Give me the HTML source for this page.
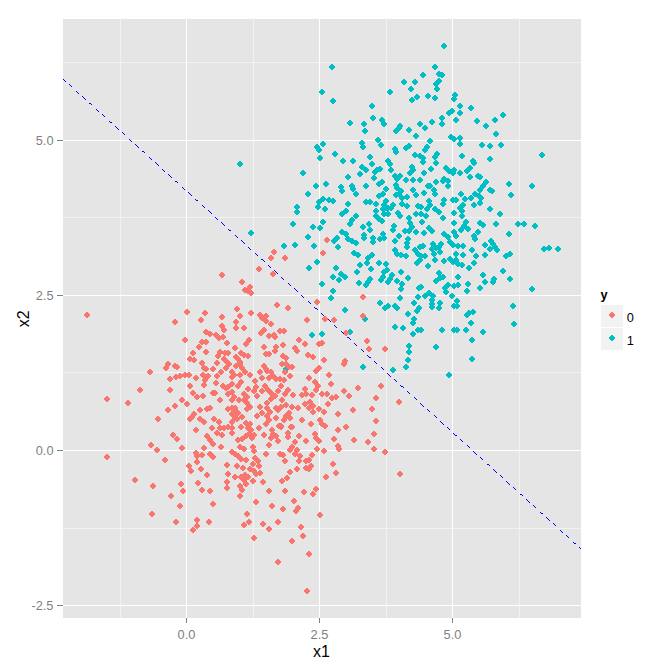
<!DOCTYPE html>
<html><head><meta charset="utf-8"><title>plot</title>
<style>
html,body{margin:0;padding:0;background:#fff;}
body{width:672px;height:671px;overflow:hidden;font-family:"Liberation Sans",sans-serif;}
svg{display:block;position:absolute;left:0;top:0}
text{font-family:"Liberation Sans",sans-serif;}
.at{font-size:12.8px;fill:#7f7f7f}
.lt{font-size:12.8px;fill:#000}
.ti{font-size:16px;fill:#000}
</style></head><body>
<svg width="672" height="671" viewBox="0 0 672 671">
<rect x="0" y="0" width="672" height="671" fill="#fff"/>
<rect x="63" y="19" width="518" height="599" fill="#e5e5e5"/>
<g fill="#f2f2f2" shape-rendering="crispEdges"><rect x="120" y="19" width="1" height="599"/><rect x="253" y="19" width="1" height="599"/><rect x="386" y="19" width="1" height="599"/><rect x="519" y="19" width="1" height="599"/><rect x="63" y="62" width="518" height="1"/><rect x="63" y="217" width="518" height="1"/><rect x="63" y="372" width="518" height="1"/><rect x="63" y="528" width="518" height="1"/></g>
<g fill="#fff" shape-rendering="crispEdges"><rect x="186" y="19" width="1" height="599"/><rect x="319" y="19" width="1" height="599"/><rect x="452" y="19" width="1" height="599"/><rect x="63" y="140" width="518" height="1"/><rect x="63" y="295" width="518" height="1"/><rect x="63" y="450" width="518" height="1"/><rect x="63" y="605" width="518" height="1"/></g>
<g fill="#7f7f7f" shape-rendering="crispEdges"><rect x="186" y="618" width="1" height="5"/><rect x="319" y="618" width="1" height="5"/><rect x="452" y="618" width="1" height="5"/><rect x="57" y="140" width="6" height="1"/><rect x="57" y="295" width="6" height="1"/><rect x="57" y="450" width="6" height="1"/><rect x="57" y="605" width="6" height="1"/></g>
<text class="at" text-anchor="middle" x="186.5" y="639">0.0</text><text class="at" text-anchor="middle" x="319.5" y="639">2.5</text><text class="at" text-anchor="middle" x="452.5" y="639">5.0</text><text class="at" text-anchor="end" x="53.5" y="610.4">-2.5</text><text class="at" text-anchor="end" x="53.5" y="455.4">0.0</text><text class="at" text-anchor="end" x="53.5" y="300.4">2.5</text><text class="at" text-anchor="end" x="53.5" y="145.4">5.0</text><text class="ti" text-anchor="middle" x="321.5" y="657">x1</text>
<text class="ti" text-anchor="middle" transform="translate(28.5,318.8) rotate(-90)">x2</text>
<path fill="#00bfc4" shape-rendering="crispEdges" d="M331 64h2v1h1v1h1v2h-1v1h-1v1h-2v-1h-1v-1h-1v-2h1v-1h1zM321 89h2v1h1v1h1v2h-1v1h-1v1h-2v-1h-1v-1h-1v-2h1v-1h1zM389 89h2v1h1v1h1v2h-1v1h-1v1h-2v-1h-1v-1h-1v-2h1v-1h1zM332 98h2v1h1v1h1v2h-1v1h-1v1h-2v-1h-1v-1h-1v-2h1v-1h1zM371 103h2v1h1v1h1v2h-1v1h-1v1h-2v-1h-1v-1h-1v-2h1v-1h1zM372 115h2v1h1v1h1v2h-1v1h-1v1h-2v-1h-1v-1h-1v-2h1v-1h1zM381 117h2v1h1v1h1v2h-1v1h-1v1h-2v-1h-1v-1h-1v-2h1v-1h1zM383 121h2v1h1v1h1v2h-1v1h-1v1h-2v-1h-1v-1h-1v-2h1v-1h1zM349 120h2v1h1v1h1v2h-1v1h-1v1h-2v-1h-1v-1h-1v-2h1v-1h1zM363 121h2v1h1v1h1v2h-1v1h-1v1h-2v-1h-1v-1h-1v-2h1v-1h1zM364 128h2v1h1v1h1v2h-1v1h-1v1h-2v-1h-1v-1h-1v-2h1v-1h1zM395 128h2v1h1v1h1v2h-1v1h-1v1h-2v-1h-1v-1h-1v-2h1v-1h1zM377 137h2v1h1v1h1v2h-1v1h-1v1h-2v-1h-1v-1h-1v-2h1v-1h1zM361 140h2v1h1v1h1v2h-1v1h-1v1h-2v-1h-1v-1h-1v-2h1v-1h1zM380 142h2v1h1v1h1v2h-1v1h-1v1h-2v-1h-1v-1h-1v-2h1v-1h1zM362 144h2v1h1v1h1v2h-1v1h-1v1h-2v-1h-1v-1h-1v-2h1v-1h1zM322 141h2v1h1v1h1v2h-1v1h-1v1h-2v-1h-1v-1h-1v-2h1v-1h1zM316 144h2v1h1v1h1v2h-1v1h-1v1h-2v-1h-1v-1h-1v-2h1v-1h1zM318 147h2v1h1v1h1v2h-1v1h-1v1h-2v-1h-1v-1h-1v-2h1v-1h1zM394 146h2v1h1v1h1v2h-1v1h-1v1h-2v-1h-1v-1h-1v-2h1v-1h1zM395 149h2v1h1v1h1v2h-1v1h-1v1h-2v-1h-1v-1h-1v-2h1v-1h1zM334 151h2v1h1v1h1v2h-1v1h-1v1h-2v-1h-1v-1h-1v-2h1v-1h1zM319 155h2v1h1v1h1v2h-1v1h-1v1h-2v-1h-1v-1h-1v-2h1v-1h1zM369 154h2v1h1v1h1v2h-1v1h-1v1h-2v-1h-1v-1h-1v-2h1v-1h1zM342 158h2v1h1v1h1v2h-1v1h-1v1h-2v-1h-1v-1h-1v-2h1v-1h1zM352 158h2v1h1v1h1v2h-1v1h-1v1h-2v-1h-1v-1h-1v-2h1v-1h1zM387 158h2v1h1v1h1v2h-1v1h-1v1h-2v-1h-1v-1h-1v-2h1v-1h1zM389 161h2v1h1v1h1v2h-1v1h-1v1h-2v-1h-1v-1h-1v-2h1v-1h1zM371 161h2v1h1v1h1v2h-1v1h-1v1h-2v-1h-1v-1h-1v-2h1v-1h1zM239 161h2v1h1v1h1v2h-1v1h-1v1h-2v-1h-1v-1h-1v-2h1v-1h1zM361 164h2v1h1v1h1v2h-1v1h-1v1h-2v-1h-1v-1h-1v-2h1v-1h1zM365 167h2v1h1v1h1v2h-1v1h-1v1h-2v-1h-1v-1h-1v-2h1v-1h1zM376 167h2v1h1v1h1v2h-1v1h-1v1h-2v-1h-1v-1h-1v-2h1v-1h1zM379 166h2v1h1v1h1v2h-1v1h-1v1h-2v-1h-1v-1h-1v-2h1v-1h1zM374 169h2v1h1v1h1v2h-1v1h-1v1h-2v-1h-1v-1h-1v-2h1v-1h1zM390 167h2v1h1v1h1v2h-1v1h-1v1h-2v-1h-1v-1h-1v-2h1v-1h1zM302 170h2v1h1v1h1v2h-1v1h-1v1h-2v-1h-1v-1h-1v-2h1v-1h1zM359 171h2v1h1v1h1v2h-1v1h-1v1h-2v-1h-1v-1h-1v-2h1v-1h1zM347 174h2v1h1v1h1v2h-1v1h-1v1h-2v-1h-1v-1h-1v-2h1v-1h1zM373 175h2v1h1v1h1v2h-1v1h-1v1h-2v-1h-1v-1h-1v-2h1v-1h1zM394 173h2v1h1v1h1v2h-1v1h-1v1h-2v-1h-1v-1h-1v-2h1v-1h1zM396 175h2v1h1v1h1v2h-1v1h-1v1h-2v-1h-1v-1h-1v-2h1v-1h1zM381 179h2v1h1v1h1v2h-1v1h-1v1h-2v-1h-1v-1h-1v-2h1v-1h1zM378 181h2v1h1v1h1v2h-1v1h-1v1h-2v-1h-1v-1h-1v-2h1v-1h1zM325 181h2v1h1v1h1v2h-1v1h-1v1h-2v-1h-1v-1h-1v-2h1v-1h1zM315 183h2v1h1v1h1v2h-1v1h-1v1h-2v-1h-1v-1h-1v-2h1v-1h1zM340 184h2v1h1v1h1v2h-1v1h-1v1h-2v-1h-1v-1h-1v-2h1v-1h1zM351 183h2v1h1v1h1v2h-1v1h-1v1h-2v-1h-1v-1h-1v-2h1v-1h1zM365 183h2v1h1v1h1v2h-1v1h-1v1h-2v-1h-1v-1h-1v-2h1v-1h1zM395 182h2v1h1v1h1v2h-1v1h-1v1h-2v-1h-1v-1h-1v-2h1v-1h1zM443 43h2v1h1v1h1v2h-1v1h-1v1h-2v-1h-1v-1h-1v-2h1v-1h1zM434 64h2v1h1v1h1v2h-1v1h-1v1h-2v-1h-1v-1h-1v-2h1v-1h1zM422 72h2v1h1v1h1v2h-1v1h-1v1h-2v-1h-1v-1h-1v-2h1v-1h1zM438 71h2v1h1v1h1v2h-1v1h-1v1h-2v-1h-1v-1h-1v-2h1v-1h1zM441 72h2v1h1v1h1v2h-1v1h-1v1h-2v-1h-1v-1h-1v-2h1v-1h1zM403 79h2v1h1v1h1v2h-1v1h-1v1h-2v-1h-1v-1h-1v-2h1v-1h1zM414 79h2v1h1v1h1v2h-1v1h-1v1h-2v-1h-1v-1h-1v-2h1v-1h1zM438 78h2v1h1v1h1v2h-1v1h-1v1h-2v-1h-1v-1h-1v-2h1v-1h1zM435 81h2v1h1v1h1v2h-1v1h-1v1h-2v-1h-1v-1h-1v-2h1v-1h1zM410 86h2v1h1v1h1v2h-1v1h-1v1h-2v-1h-1v-1h-1v-2h1v-1h1zM436 86h2v1h1v1h1v2h-1v1h-1v1h-2v-1h-1v-1h-1v-2h1v-1h1zM427 93h2v1h1v1h1v2h-1v1h-1v1h-2v-1h-1v-1h-1v-2h1v-1h1zM416 94h2v1h1v1h1v2h-1v1h-1v1h-2v-1h-1v-1h-1v-2h1v-1h1zM411 97h2v1h1v1h1v2h-1v1h-1v1h-2v-1h-1v-1h-1v-2h1v-1h1zM434 95h2v1h1v1h1v2h-1v1h-1v1h-2v-1h-1v-1h-1v-2h1v-1h1zM454 92h2v1h1v1h1v2h-1v1h-1v1h-2v-1h-1v-1h-1v-2h1v-1h1zM453 96h2v1h1v1h1v2h-1v1h-1v1h-2v-1h-1v-1h-1v-2h1v-1h1zM459 103h2v1h1v1h1v2h-1v1h-1v1h-2v-1h-1v-1h-1v-2h1v-1h1zM470 105h2v1h1v1h1v2h-1v1h-1v1h-2v-1h-1v-1h-1v-2h1v-1h1zM451 108h2v1h1v1h1v2h-1v1h-1v1h-2v-1h-1v-1h-1v-2h1v-1h1zM448 110h2v1h1v1h1v2h-1v1h-1v1h-2v-1h-1v-1h-1v-2h1v-1h1zM459 110h2v1h1v1h1v2h-1v1h-1v1h-2v-1h-1v-1h-1v-2h1v-1h1zM441 115h2v1h1v1h1v2h-1v1h-1v1h-2v-1h-1v-1h-1v-2h1v-1h1zM455 117h2v1h1v1h1v2h-1v1h-1v1h-2v-1h-1v-1h-1v-2h1v-1h1zM431 119h2v1h1v1h1v2h-1v1h-1v1h-2v-1h-1v-1h-1v-2h1v-1h1zM419 121h2v1h1v1h1v2h-1v1h-1v1h-2v-1h-1v-1h-1v-2h1v-1h1zM441 121h2v1h1v1h1v2h-1v1h-1v1h-2v-1h-1v-1h-1v-2h1v-1h1zM502 112h2v1h1v1h1v2h-1v1h-1v1h-2v-1h-1v-1h-1v-2h1v-1h1zM494 117h2v1h1v1h1v2h-1v1h-1v1h-2v-1h-1v-1h-1v-2h1v-1h1zM476 118h2v1h1v1h1v2h-1v1h-1v1h-2v-1h-1v-1h-1v-2h1v-1h1zM485 123h2v1h1v1h1v2h-1v1h-1v1h-2v-1h-1v-1h-1v-2h1v-1h1zM399 123h2v1h1v1h1v2h-1v1h-1v1h-2v-1h-1v-1h-1v-2h1v-1h1zM398 125h2v1h1v1h1v2h-1v1h-1v1h-2v-1h-1v-1h-1v-2h1v-1h1zM408 127h2v1h1v1h1v2h-1v1h-1v1h-2v-1h-1v-1h-1v-2h1v-1h1zM424 125h2v1h1v1h1v2h-1v1h-1v1h-2v-1h-1v-1h-1v-2h1v-1h1zM415 133h2v1h1v1h1v2h-1v1h-1v1h-2v-1h-1v-1h-1v-2h1v-1h1zM495 131h2v1h1v1h1v2h-1v1h-1v1h-2v-1h-1v-1h-1v-2h1v-1h1zM450 134h2v1h1v1h1v2h-1v1h-1v1h-2v-1h-1v-1h-1v-2h1v-1h1zM453 136h2v1h1v1h1v2h-1v1h-1v1h-2v-1h-1v-1h-1v-2h1v-1h1zM459 135h2v1h1v1h1v2h-1v1h-1v1h-2v-1h-1v-1h-1v-2h1v-1h1zM429 138h2v1h1v1h1v2h-1v1h-1v1h-2v-1h-1v-1h-1v-2h1v-1h1zM459 141h2v1h1v1h1v2h-1v1h-1v1h-2v-1h-1v-1h-1v-2h1v-1h1zM481 142h2v1h1v1h1v2h-1v1h-1v1h-2v-1h-1v-1h-1v-2h1v-1h1zM489 143h2v1h1v1h1v2h-1v1h-1v1h-2v-1h-1v-1h-1v-2h1v-1h1zM500 142h2v1h1v1h1v2h-1v1h-1v1h-2v-1h-1v-1h-1v-2h1v-1h1zM408 143h2v1h1v1h1v2h-1v1h-1v1h-2v-1h-1v-1h-1v-2h1v-1h1zM405 145h2v1h1v1h1v2h-1v1h-1v1h-2v-1h-1v-1h-1v-2h1v-1h1zM426 144h2v1h1v1h1v2h-1v1h-1v1h-2v-1h-1v-1h-1v-2h1v-1h1zM424 147h2v1h1v1h1v2h-1v1h-1v1h-2v-1h-1v-1h-1v-2h1v-1h1zM414 152h2v1h1v1h1v2h-1v1h-1v1h-2v-1h-1v-1h-1v-2h1v-1h1zM419 153h2v1h1v1h1v2h-1v1h-1v1h-2v-1h-1v-1h-1v-2h1v-1h1zM422 155h2v1h1v1h1v2h-1v1h-1v1h-2v-1h-1v-1h-1v-2h1v-1h1zM436 151h2v1h1v1h1v2h-1v1h-1v1h-2v-1h-1v-1h-1v-2h1v-1h1zM434 154h2v1h1v1h1v2h-1v1h-1v1h-2v-1h-1v-1h-1v-2h1v-1h1zM422 159h2v1h1v1h1v2h-1v1h-1v1h-2v-1h-1v-1h-1v-2h1v-1h1zM435 160h2v1h1v1h1v2h-1v1h-1v1h-2v-1h-1v-1h-1v-2h1v-1h1zM461 153h2v1h1v1h1v2h-1v1h-1v1h-2v-1h-1v-1h-1v-2h1v-1h1zM489 156h2v1h1v1h1v2h-1v1h-1v1h-2v-1h-1v-1h-1v-2h1v-1h1zM541 152h2v1h1v1h1v2h-1v1h-1v1h-2v-1h-1v-1h-1v-2h1v-1h1zM472 158h2v1h1v1h1v2h-1v1h-1v1h-2v-1h-1v-1h-1v-2h1v-1h1zM473 160h2v1h1v1h1v2h-1v1h-1v1h-2v-1h-1v-1h-1v-2h1v-1h1zM411 164h2v1h1v1h1v2h-1v1h-1v1h-2v-1h-1v-1h-1v-2h1v-1h1zM412 167h2v1h1v1h1v2h-1v1h-1v1h-2v-1h-1v-1h-1v-2h1v-1h1zM409 170h2v1h1v1h1v2h-1v1h-1v1h-2v-1h-1v-1h-1v-2h1v-1h1zM430 166h2v1h1v1h1v2h-1v1h-1v1h-2v-1h-1v-1h-1v-2h1v-1h1zM423 170h2v1h1v1h1v2h-1v1h-1v1h-2v-1h-1v-1h-1v-2h1v-1h1zM445 165h2v1h1v1h1v2h-1v1h-1v1h-2v-1h-1v-1h-1v-2h1v-1h1zM448 168h2v1h1v1h1v2h-1v1h-1v1h-2v-1h-1v-1h-1v-2h1v-1h1zM453 167h2v1h1v1h1v2h-1v1h-1v1h-2v-1h-1v-1h-1v-2h1v-1h1zM452 170h2v1h1v1h1v2h-1v1h-1v1h-2v-1h-1v-1h-1v-2h1v-1h1zM459 170h2v1h1v1h1v2h-1v1h-1v1h-2v-1h-1v-1h-1v-2h1v-1h1zM469 165h2v1h1v1h1v2h-1v1h-1v1h-2v-1h-1v-1h-1v-2h1v-1h1zM466 168h2v1h1v1h1v2h-1v1h-1v1h-2v-1h-1v-1h-1v-2h1v-1h1zM469 174h2v1h1v1h1v2h-1v1h-1v1h-2v-1h-1v-1h-1v-2h1v-1h1zM477 173h2v1h1v1h1v2h-1v1h-1v1h-2v-1h-1v-1h-1v-2h1v-1h1zM479 174h2v1h1v1h1v2h-1v1h-1v1h-2v-1h-1v-1h-1v-2h1v-1h1zM399 173h2v1h1v1h1v2h-1v1h-1v1h-2v-1h-1v-1h-1v-2h1v-1h1zM405 177h2v1h1v1h1v2h-1v1h-1v1h-2v-1h-1v-1h-1v-2h1v-1h1zM412 177h2v1h1v1h1v2h-1v1h-1v1h-2v-1h-1v-1h-1v-2h1v-1h1zM419 177h2v1h1v1h1v2h-1v1h-1v1h-2v-1h-1v-1h-1v-2h1v-1h1zM435 179h2v1h1v1h1v2h-1v1h-1v1h-2v-1h-1v-1h-1v-2h1v-1h1zM443 176h2v1h1v1h1v2h-1v1h-1v1h-2v-1h-1v-1h-1v-2h1v-1h1zM447 178h2v1h1v1h1v2h-1v1h-1v1h-2v-1h-1v-1h-1v-2h1v-1h1zM442 178h2v1h1v1h1v2h-1v1h-1v1h-2v-1h-1v-1h-1v-2h1v-1h1zM485 179h2v1h1v1h1v2h-1v1h-1v1h-2v-1h-1v-1h-1v-2h1v-1h1zM508 181h2v1h1v1h1v2h-1v1h-1v1h-2v-1h-1v-1h-1v-2h1v-1h1zM531 183h2v1h1v1h1v2h-1v1h-1v1h-2v-1h-1v-1h-1v-2h1v-1h1zM427 183h2v1h1v1h1v2h-1v1h-1v1h-2v-1h-1v-1h-1v-2h1v-1h1zM482 183h2v1h1v1h1v2h-1v1h-1v1h-2v-1h-1v-1h-1v-2h1v-1h1zM447 183h2v1h1v1h1v2h-1v1h-1v1h-2v-1h-1v-1h-1v-2h1v-1h1zM307 191h2v1h1v1h1v2h-1v1h-1v1h-2v-1h-1v-1h-1v-2h1v-1h1zM322 196h2v1h1v1h1v2h-1v1h-1v1h-2v-1h-1v-1h-1v-2h1v-1h1zM318 199h2v1h1v1h1v2h-1v1h-1v1h-2v-1h-1v-1h-1v-2h1v-1h1zM328 197h2v1h1v1h1v2h-1v1h-1v1h-2v-1h-1v-1h-1v-2h1v-1h1zM332 198h2v1h1v1h1v2h-1v1h-1v1h-2v-1h-1v-1h-1v-2h1v-1h1zM296 204h2v1h1v1h1v2h-1v1h-1v1h-2v-1h-1v-1h-1v-2h1v-1h1zM317 204h2v1h1v1h1v2h-1v1h-1v1h-2v-1h-1v-1h-1v-2h1v-1h1zM324 206h2v1h1v1h1v2h-1v1h-1v1h-2v-1h-1v-1h-1v-2h1v-1h1zM296 209h2v1h1v1h1v2h-1v1h-1v1h-2v-1h-1v-1h-1v-2h1v-1h1zM341 211h2v1h1v1h1v2h-1v1h-1v1h-2v-1h-1v-1h-1v-2h1v-1h1zM292 221h2v1h1v1h1v2h-1v1h-1v1h-2v-1h-1v-1h-1v-2h1v-1h1zM322 219h2v1h1v1h1v2h-1v1h-1v1h-2v-1h-1v-1h-1v-2h1v-1h1zM312 224h2v1h1v1h1v2h-1v1h-1v1h-2v-1h-1v-1h-1v-2h1v-1h1zM319 225h2v1h1v1h1v2h-1v1h-1v1h-2v-1h-1v-1h-1v-2h1v-1h1zM250 230h2v1h1v1h1v2h-1v1h-1v1h-2v-1h-1v-1h-1v-2h1v-1h1zM307 234h2v1h1v1h1v2h-1v1h-1v1h-2v-1h-1v-1h-1v-2h1v-1h1zM341 229h2v1h1v1h1v2h-1v1h-1v1h-2v-1h-1v-1h-1v-2h1v-1h1zM336 235h2v1h1v1h1v2h-1v1h-1v1h-2v-1h-1v-1h-1v-2h1v-1h1zM333 238h2v1h1v1h1v2h-1v1h-1v1h-2v-1h-1v-1h-1v-2h1v-1h1zM283 243h2v1h1v1h1v2h-1v1h-1v1h-2v-1h-1v-1h-1v-2h1v-1h1zM294 242h2v1h1v1h1v2h-1v1h-1v1h-2v-1h-1v-1h-1v-2h1v-1h1zM313 243h2v1h1v1h1v2h-1v1h-1v1h-2v-1h-1v-1h-1v-2h1v-1h1zM337 244h2v1h1v1h1v2h-1v1h-1v1h-2v-1h-1v-1h-1v-2h1v-1h1zM316 259h2v1h1v1h1v2h-1v1h-1v1h-2v-1h-1v-1h-1v-2h1v-1h1zM308 265h2v1h1v1h1v2h-1v1h-1v1h-2v-1h-1v-1h-1v-2h1v-1h1zM335 265h2v1h1v1h1v2h-1v1h-1v1h-2v-1h-1v-1h-1v-2h1v-1h1zM340 271h2v1h1v1h1v2h-1v1h-1v1h-2v-1h-1v-1h-1v-2h1v-1h1zM332 274h2v1h1v1h1v2h-1v1h-1v1h-2v-1h-1v-1h-1v-2h1v-1h1zM338 277h2v1h1v1h1v2h-1v1h-1v1h-2v-1h-1v-1h-1v-2h1v-1h1zM321 281h2v1h1v1h1v2h-1v1h-1v1h-2v-1h-1v-1h-1v-2h1v-1h1zM332 288h2v1h1v1h1v2h-1v1h-1v1h-2v-1h-1v-1h-1v-2h1v-1h1zM330 295h2v1h1v1h1v2h-1v1h-1v1h-2v-1h-1v-1h-1v-2h1v-1h1zM341 188h2v1h1v1h1v2h-1v1h-1v1h-2v-1h-1v-1h-1v-2h1v-1h1zM352 186h2v1h1v1h1v2h-1v1h-1v1h-2v-1h-1v-1h-1v-2h1v-1h1zM355 191h2v1h1v1h1v2h-1v1h-1v1h-2v-1h-1v-1h-1v-2h1v-1h1zM385 186h2v1h1v1h1v2h-1v1h-1v1h-2v-1h-1v-1h-1v-2h1v-1h1zM378 193h2v1h1v1h1v2h-1v1h-1v1h-2v-1h-1v-1h-1v-2h1v-1h1zM382 191h2v1h1v1h1v2h-1v1h-1v1h-2v-1h-1v-1h-1v-2h1v-1h1zM396 185h2v1h1v1h1v2h-1v1h-1v1h-2v-1h-1v-1h-1v-2h1v-1h1zM400 188h2v1h1v1h1v2h-1v1h-1v1h-2v-1h-1v-1h-1v-2h1v-1h1zM395 192h2v1h1v1h1v2h-1v1h-1v1h-2v-1h-1v-1h-1v-2h1v-1h1zM401 195h2v1h1v1h1v2h-1v1h-1v1h-2v-1h-1v-1h-1v-2h1v-1h1zM406 194h2v1h1v1h1v2h-1v1h-1v1h-2v-1h-1v-1h-1v-2h1v-1h1zM412 187h2v1h1v1h1v2h-1v1h-1v1h-2v-1h-1v-1h-1v-2h1v-1h1zM415 192h2v1h1v1h1v2h-1v1h-1v1h-2v-1h-1v-1h-1v-2h1v-1h1zM423 190h2v1h1v1h1v2h-1v1h-1v1h-2v-1h-1v-1h-1v-2h1v-1h1zM433 187h2v1h1v1h1v2h-1v1h-1v1h-2v-1h-1v-1h-1v-2h1v-1h1zM434 191h2v1h1v1h1v2h-1v1h-1v1h-2v-1h-1v-1h-1v-2h1v-1h1zM452 197h2v1h1v1h1v2h-1v1h-1v1h-2v-1h-1v-1h-1v-2h1v-1h1zM347 201h2v1h1v1h1v2h-1v1h-1v1h-2v-1h-1v-1h-1v-2h1v-1h1zM345 208h2v1h1v1h1v2h-1v1h-1v1h-2v-1h-1v-1h-1v-2h1v-1h1zM365 199h2v1h1v1h1v2h-1v1h-1v1h-2v-1h-1v-1h-1v-2h1v-1h1zM369 199h2v1h1v1h1v2h-1v1h-1v1h-2v-1h-1v-1h-1v-2h1v-1h1zM375 201h2v1h1v1h1v2h-1v1h-1v1h-2v-1h-1v-1h-1v-2h1v-1h1zM385 198h2v1h1v1h1v2h-1v1h-1v1h-2v-1h-1v-1h-1v-2h1v-1h1zM383 202h2v1h1v1h1v2h-1v1h-1v1h-2v-1h-1v-1h-1v-2h1v-1h1zM392 202h2v1h1v1h1v2h-1v1h-1v1h-2v-1h-1v-1h-1v-2h1v-1h1zM382 206h2v1h1v1h1v2h-1v1h-1v1h-2v-1h-1v-1h-1v-2h1v-1h1zM387 205h2v1h1v1h1v2h-1v1h-1v1h-2v-1h-1v-1h-1v-2h1v-1h1zM390 205h2v1h1v1h1v2h-1v1h-1v1h-2v-1h-1v-1h-1v-2h1v-1h1zM383 211h2v1h1v1h1v2h-1v1h-1v1h-2v-1h-1v-1h-1v-2h1v-1h1zM387 211h2v1h1v1h1v2h-1v1h-1v1h-2v-1h-1v-1h-1v-2h1v-1h1zM397 210h2v1h1v1h1v2h-1v1h-1v1h-2v-1h-1v-1h-1v-2h1v-1h1zM399 213h2v1h1v1h1v2h-1v1h-1v1h-2v-1h-1v-1h-1v-2h1v-1h1zM401 201h2v1h1v1h1v2h-1v1h-1v1h-2v-1h-1v-1h-1v-2h1v-1h1zM406 203h2v1h1v1h1v2h-1v1h-1v1h-2v-1h-1v-1h-1v-2h1v-1h1zM417 203h2v1h1v1h1v2h-1v1h-1v1h-2v-1h-1v-1h-1v-2h1v-1h1zM420 204h2v1h1v1h1v2h-1v1h-1v1h-2v-1h-1v-1h-1v-2h1v-1h1zM428 198h2v1h1v1h1v2h-1v1h-1v1h-2v-1h-1v-1h-1v-2h1v-1h1zM429 202h2v1h1v1h1v2h-1v1h-1v1h-2v-1h-1v-1h-1v-2h1v-1h1zM426 206h2v1h1v1h1v2h-1v1h-1v1h-2v-1h-1v-1h-1v-2h1v-1h1zM415 211h2v1h1v1h1v2h-1v1h-1v1h-2v-1h-1v-1h-1v-2h1v-1h1zM420 211h2v1h1v1h1v2h-1v1h-1v1h-2v-1h-1v-1h-1v-2h1v-1h1zM425 213h2v1h1v1h1v2h-1v1h-1v1h-2v-1h-1v-1h-1v-2h1v-1h1zM434 206h2v1h1v1h1v2h-1v1h-1v1h-2v-1h-1v-1h-1v-2h1v-1h1zM438 209h2v1h1v1h1v2h-1v1h-1v1h-2v-1h-1v-1h-1v-2h1v-1h1zM443 197h2v1h1v1h1v2h-1v1h-1v1h-2v-1h-1v-1h-1v-2h1v-1h1zM442 201h2v1h1v1h1v2h-1v1h-1v1h-2v-1h-1v-1h-1v-2h1v-1h1zM442 215h2v1h1v1h1v2h-1v1h-1v1h-2v-1h-1v-1h-1v-2h1v-1h1zM453 210h2v1h1v1h1v2h-1v1h-1v1h-2v-1h-1v-1h-1v-2h1v-1h1zM355 213h2v1h1v1h1v2h-1v1h-1v1h-2v-1h-1v-1h-1v-2h1v-1h1zM351 217h2v1h1v1h1v2h-1v1h-1v1h-2v-1h-1v-1h-1v-2h1v-1h1zM349 221h2v1h1v1h1v2h-1v1h-1v1h-2v-1h-1v-1h-1v-2h1v-1h1zM375 213h2v1h1v1h1v2h-1v1h-1v1h-2v-1h-1v-1h-1v-2h1v-1h1zM378 216h2v1h1v1h1v2h-1v1h-1v1h-2v-1h-1v-1h-1v-2h1v-1h1zM381 218h2v1h1v1h1v2h-1v1h-1v1h-2v-1h-1v-1h-1v-2h1v-1h1zM408 215h2v1h1v1h1v2h-1v1h-1v1h-2v-1h-1v-1h-1v-2h1v-1h1zM409 220h2v1h1v1h1v2h-1v1h-1v1h-2v-1h-1v-1h-1v-2h1v-1h1zM411 224h2v1h1v1h1v2h-1v1h-1v1h-2v-1h-1v-1h-1v-2h1v-1h1zM404 228h2v1h1v1h1v2h-1v1h-1v1h-2v-1h-1v-1h-1v-2h1v-1h1zM408 228h2v1h1v1h1v2h-1v1h-1v1h-2v-1h-1v-1h-1v-2h1v-1h1zM415 229h2v1h1v1h1v2h-1v1h-1v1h-2v-1h-1v-1h-1v-2h1v-1h1zM421 219h2v1h1v1h1v2h-1v1h-1v1h-2v-1h-1v-1h-1v-2h1v-1h1zM423 230h2v1h1v1h1v2h-1v1h-1v1h-2v-1h-1v-1h-1v-2h1v-1h1zM428 225h2v1h1v1h1v2h-1v1h-1v1h-2v-1h-1v-1h-1v-2h1v-1h1zM431 228h2v1h1v1h1v2h-1v1h-1v1h-2v-1h-1v-1h-1v-2h1v-1h1zM393 223h2v1h1v1h1v2h-1v1h-1v1h-2v-1h-1v-1h-1v-2h1v-1h1zM392 227h2v1h1v1h1v2h-1v1h-1v1h-2v-1h-1v-1h-1v-2h1v-1h1zM362 224h2v1h1v1h1v2h-1v1h-1v1h-2v-1h-1v-1h-1v-2h1v-1h1zM368 221h2v1h1v1h1v2h-1v1h-1v1h-2v-1h-1v-1h-1v-2h1v-1h1zM369 227h2v1h1v1h1v2h-1v1h-1v1h-2v-1h-1v-1h-1v-2h1v-1h1zM345 231h2v1h1v1h1v2h-1v1h-1v1h-2v-1h-1v-1h-1v-2h1v-1h1zM347 236h2v1h1v1h1v2h-1v1h-1v1h-2v-1h-1v-1h-1v-2h1v-1h1zM351 238h2v1h1v1h1v2h-1v1h-1v1h-2v-1h-1v-1h-1v-2h1v-1h1zM355 240h2v1h1v1h1v2h-1v1h-1v1h-2v-1h-1v-1h-1v-2h1v-1h1zM363 232h2v1h1v1h1v2h-1v1h-1v1h-2v-1h-1v-1h-1v-2h1v-1h1zM363 235h2v1h1v1h1v2h-1v1h-1v1h-2v-1h-1v-1h-1v-2h1v-1h1zM372 235h2v1h1v1h1v2h-1v1h-1v1h-2v-1h-1v-1h-1v-2h1v-1h1zM372 239h2v1h1v1h1v2h-1v1h-1v1h-2v-1h-1v-1h-1v-2h1v-1h1zM382 231h2v1h1v1h1v2h-1v1h-1v1h-2v-1h-1v-1h-1v-2h1v-1h1zM379 236h2v1h1v1h1v2h-1v1h-1v1h-2v-1h-1v-1h-1v-2h1v-1h1zM383 235h2v1h1v1h1v2h-1v1h-1v1h-2v-1h-1v-1h-1v-2h1v-1h1zM398 233h2v1h1v1h1v2h-1v1h-1v1h-2v-1h-1v-1h-1v-2h1v-1h1zM394 238h2v1h1v1h1v2h-1v1h-1v1h-2v-1h-1v-1h-1v-2h1v-1h1zM407 236h2v1h1v1h1v2h-1v1h-1v1h-2v-1h-1v-1h-1v-2h1v-1h1zM406 240h2v1h1v1h1v2h-1v1h-1v1h-2v-1h-1v-1h-1v-2h1v-1h1zM406 244h2v1h1v1h1v2h-1v1h-1v1h-2v-1h-1v-1h-1v-2h1v-1h1zM443 231h2v1h1v1h1v2h-1v1h-1v1h-2v-1h-1v-1h-1v-2h1v-1h1zM447 234h2v1h1v1h1v2h-1v1h-1v1h-2v-1h-1v-1h-1v-2h1v-1h1zM449 239h2v1h1v1h1v2h-1v1h-1v1h-2v-1h-1v-1h-1v-2h1v-1h1zM452 242h2v1h1v1h1v2h-1v1h-1v1h-2v-1h-1v-1h-1v-2h1v-1h1zM453 220h2v1h1v1h1v2h-1v1h-1v1h-2v-1h-1v-1h-1v-2h1v-1h1zM453 229h2v1h1v1h1v2h-1v1h-1v1h-2v-1h-1v-1h-1v-2h1v-1h1zM419 244h2v1h1v1h1v2h-1v1h-1v1h-2v-1h-1v-1h-1v-2h1v-1h1zM422 243h2v1h1v1h1v2h-1v1h-1v1h-2v-1h-1v-1h-1v-2h1v-1h1zM432 241h2v1h1v1h1v2h-1v1h-1v1h-2v-1h-1v-1h-1v-2h1v-1h1zM431 246h2v1h1v1h1v2h-1v1h-1v1h-2v-1h-1v-1h-1v-2h1v-1h1zM433 251h2v1h1v1h1v2h-1v1h-1v1h-2v-1h-1v-1h-1v-2h1v-1h1zM438 244h2v1h1v1h1v2h-1v1h-1v1h-2v-1h-1v-1h-1v-2h1v-1h1zM440 241h2v1h1v1h1v2h-1v1h-1v1h-2v-1h-1v-1h-1v-2h1v-1h1zM439 249h2v1h1v1h1v2h-1v1h-1v1h-2v-1h-1v-1h-1v-2h1v-1h1zM434 257h2v1h1v1h1v2h-1v1h-1v1h-2v-1h-1v-1h-1v-2h1v-1h1zM414 247h2v1h1v1h1v2h-1v1h-1v1h-2v-1h-1v-1h-1v-2h1v-1h1zM417 251h2v1h1v1h1v2h-1v1h-1v1h-2v-1h-1v-1h-1v-2h1v-1h1zM420 253h2v1h1v1h1v2h-1v1h-1v1h-2v-1h-1v-1h-1v-2h1v-1h1zM424 253h2v1h1v1h1v2h-1v1h-1v1h-2v-1h-1v-1h-1v-2h1v-1h1zM419 257h2v1h1v1h1v2h-1v1h-1v1h-2v-1h-1v-1h-1v-2h1v-1h1zM416 260h2v1h1v1h1v2h-1v1h-1v1h-2v-1h-1v-1h-1v-2h1v-1h1zM394 247h2v1h1v1h1v2h-1v1h-1v1h-2v-1h-1v-1h-1v-2h1v-1h1zM396 251h2v1h1v1h1v2h-1v1h-1v1h-2v-1h-1v-1h-1v-2h1v-1h1zM400 252h2v1h1v1h1v2h-1v1h-1v1h-2v-1h-1v-1h-1v-2h1v-1h1zM405 253h2v1h1v1h1v2h-1v1h-1v1h-2v-1h-1v-1h-1v-2h1v-1h1zM353 250h2v1h1v1h1v2h-1v1h-1v1h-2v-1h-1v-1h-1v-2h1v-1h1zM357 252h2v1h1v1h1v2h-1v1h-1v1h-2v-1h-1v-1h-1v-2h1v-1h1zM371 252h2v1h1v1h1v2h-1v1h-1v1h-2v-1h-1v-1h-1v-2h1v-1h1zM367 255h2v1h1v1h1v2h-1v1h-1v1h-2v-1h-1v-1h-1v-2h1v-1h1zM366 260h2v1h1v1h1v2h-1v1h-1v1h-2v-1h-1v-1h-1v-2h1v-1h1zM359 262h2v1h1v1h1v2h-1v1h-1v1h-2v-1h-1v-1h-1v-2h1v-1h1zM378 260h2v1h1v1h1v2h-1v1h-1v1h-2v-1h-1v-1h-1v-2h1v-1h1zM385 261h2v1h1v1h1v2h-1v1h-1v1h-2v-1h-1v-1h-1v-2h1v-1h1zM386 267h2v1h1v1h1v2h-1v1h-1v1h-2v-1h-1v-1h-1v-2h1v-1h1zM383 269h2v1h1v1h1v2h-1v1h-1v1h-2v-1h-1v-1h-1v-2h1v-1h1zM370 266h2v1h1v1h1v2h-1v1h-1v1h-2v-1h-1v-1h-1v-2h1v-1h1zM356 269h2v1h1v1h1v2h-1v1h-1v1h-2v-1h-1v-1h-1v-2h1v-1h1zM344 274h2v1h1v1h1v2h-1v1h-1v1h-2v-1h-1v-1h-1v-2h1v-1h1zM427 263h2v1h1v1h1v2h-1v1h-1v1h-2v-1h-1v-1h-1v-2h1v-1h1zM443 258h2v1h1v1h1v2h-1v1h-1v1h-2v-1h-1v-1h-1v-2h1v-1h1zM449 256h2v1h1v1h1v2h-1v1h-1v1h-2v-1h-1v-1h-1v-2h1v-1h1zM452 259h2v1h1v1h1v2h-1v1h-1v1h-2v-1h-1v-1h-1v-2h1v-1h1zM400 269h2v1h1v1h1v2h-1v1h-1v1h-2v-1h-1v-1h-1v-2h1v-1h1zM391 272h2v1h1v1h1v2h-1v1h-1v1h-2v-1h-1v-1h-1v-2h1v-1h1zM389 276h2v1h1v1h1v2h-1v1h-1v1h-2v-1h-1v-1h-1v-2h1v-1h1zM387 279h2v1h1v1h1v2h-1v1h-1v1h-2v-1h-1v-1h-1v-2h1v-1h1zM382 274h2v1h1v1h1v2h-1v1h-1v1h-2v-1h-1v-1h-1v-2h1v-1h1zM380 277h2v1h1v1h1v2h-1v1h-1v1h-2v-1h-1v-1h-1v-2h1v-1h1zM396 278h2v1h1v1h1v2h-1v1h-1v1h-2v-1h-1v-1h-1v-2h1v-1h1zM401 281h2v1h1v1h1v2h-1v1h-1v1h-2v-1h-1v-1h-1v-2h1v-1h1zM400 286h2v1h1v1h1v2h-1v1h-1v1h-2v-1h-1v-1h-1v-2h1v-1h1zM407 275h2v1h1v1h1v2h-1v1h-1v1h-2v-1h-1v-1h-1v-2h1v-1h1zM369 276h2v1h1v1h1v2h-1v1h-1v1h-2v-1h-1v-1h-1v-2h1v-1h1zM367 279h2v1h1v1h1v2h-1v1h-1v1h-2v-1h-1v-1h-1v-2h1v-1h1zM365 282h2v1h1v1h1v2h-1v1h-1v1h-2v-1h-1v-1h-1v-2h1v-1h1zM358 280h2v1h1v1h1v2h-1v1h-1v1h-2v-1h-1v-1h-1v-2h1v-1h1zM438 270h2v1h1v1h1v2h-1v1h-1v1h-2v-1h-1v-1h-1v-2h1v-1h1zM442 274h2v1h1v1h1v2h-1v1h-1v1h-2v-1h-1v-1h-1v-2h1v-1h1zM439 275h2v1h1v1h1v2h-1v1h-1v1h-2v-1h-1v-1h-1v-2h1v-1h1zM435 278h2v1h1v1h1v2h-1v1h-1v1h-2v-1h-1v-1h-1v-2h1v-1h1zM418 285h2v1h1v1h1v2h-1v1h-1v1h-2v-1h-1v-1h-1v-2h1v-1h1zM420 284h2v1h1v1h1v2h-1v1h-1v1h-2v-1h-1v-1h-1v-2h1v-1h1zM447 282h2v1h1v1h1v2h-1v1h-1v1h-2v-1h-1v-1h-1v-2h1v-1h1zM444 285h2v1h1v1h1v2h-1v1h-1v1h-2v-1h-1v-1h-1v-2h1v-1h1zM445 289h2v1h1v1h1v2h-1v1h-1v1h-2v-1h-1v-1h-1v-2h1v-1h1zM428 290h2v1h1v1h1v2h-1v1h-1v1h-2v-1h-1v-1h-1v-2h1v-1h1zM424 293h2v1h1v1h1v2h-1v1h-1v1h-2v-1h-1v-1h-1v-2h1v-1h1zM432 293h2v1h1v1h1v2h-1v1h-1v1h-2v-1h-1v-1h-1v-2h1v-1h1zM417 294h2v1h1v1h1v2h-1v1h-1v1h-2v-1h-1v-1h-1v-2h1v-1h1zM451 293h2v1h1v1h1v2h-1v1h-1v1h-2v-1h-1v-1h-1v-2h1v-1h1zM453 283h2v1h1v1h1v2h-1v1h-1v1h-2v-1h-1v-1h-1v-2h1v-1h1zM399 295h2v1h1v1h1v2h-1v1h-1v1h-2v-1h-1v-1h-1v-2h1v-1h1zM489 187h2v1h1v1h1v2h-1v1h-1v1h-2v-1h-1v-1h-1v-2h1v-1h1zM491 188h2v1h1v1h1v2h-1v1h-1v1h-2v-1h-1v-1h-1v-2h1v-1h1zM479 187h2v1h1v1h1v2h-1v1h-1v1h-2v-1h-1v-1h-1v-2h1v-1h1zM474 191h2v1h1v1h1v2h-1v1h-1v1h-2v-1h-1v-1h-1v-2h1v-1h1zM478 193h2v1h1v1h1v2h-1v1h-1v1h-2v-1h-1v-1h-1v-2h1v-1h1zM480 195h2v1h1v1h1v2h-1v1h-1v1h-2v-1h-1v-1h-1v-2h1v-1h1zM470 195h2v1h1v1h1v2h-1v1h-1v1h-2v-1h-1v-1h-1v-2h1v-1h1zM479 200h2v1h1v1h1v2h-1v1h-1v1h-2v-1h-1v-1h-1v-2h1v-1h1zM473 202h2v1h1v1h1v2h-1v1h-1v1h-2v-1h-1v-1h-1v-2h1v-1h1zM460 191h2v1h1v1h1v2h-1v1h-1v1h-2v-1h-1v-1h-1v-2h1v-1h1zM464 196h2v1h1v1h1v2h-1v1h-1v1h-2v-1h-1v-1h-1v-2h1v-1h1zM455 197h2v1h1v1h1v2h-1v1h-1v1h-2v-1h-1v-1h-1v-2h1v-1h1zM510 192h2v1h1v1h1v2h-1v1h-1v1h-2v-1h-1v-1h-1v-2h1v-1h1zM489 206h2v1h1v1h1v2h-1v1h-1v1h-2v-1h-1v-1h-1v-2h1v-1h1zM499 211h2v1h1v1h1v2h-1v1h-1v1h-2v-1h-1v-1h-1v-2h1v-1h1zM462 202h2v1h1v1h1v2h-1v1h-1v1h-2v-1h-1v-1h-1v-2h1v-1h1zM459 205h2v1h1v1h1v2h-1v1h-1v1h-2v-1h-1v-1h-1v-2h1v-1h1zM461 208h2v1h1v1h1v2h-1v1h-1v1h-2v-1h-1v-1h-1v-2h1v-1h1zM461 213h2v1h1v1h1v2h-1v1h-1v1h-2v-1h-1v-1h-1v-2h1v-1h1zM465 219h2v1h1v1h1v2h-1v1h-1v1h-2v-1h-1v-1h-1v-2h1v-1h1zM463 223h2v1h1v1h1v2h-1v1h-1v1h-2v-1h-1v-1h-1v-2h1v-1h1zM467 226h2v1h1v1h1v2h-1v1h-1v1h-2v-1h-1v-1h-1v-2h1v-1h1zM460 227h2v1h1v1h1v2h-1v1h-1v1h-2v-1h-1v-1h-1v-2h1v-1h1zM479 220h2v1h1v1h1v2h-1v1h-1v1h-2v-1h-1v-1h-1v-2h1v-1h1zM482 222h2v1h1v1h1v2h-1v1h-1v1h-2v-1h-1v-1h-1v-2h1v-1h1zM495 221h2v1h1v1h1v2h-1v1h-1v1h-2v-1h-1v-1h-1v-2h1v-1h1zM517 221h2v1h1v1h1v2h-1v1h-1v1h-2v-1h-1v-1h-1v-2h1v-1h1zM523 221h2v1h1v1h1v2h-1v1h-1v1h-2v-1h-1v-1h-1v-2h1v-1h1zM534 223h2v1h1v1h1v2h-1v1h-1v1h-2v-1h-1v-1h-1v-2h1v-1h1zM508 231h2v1h1v1h1v2h-1v1h-1v1h-2v-1h-1v-1h-1v-2h1v-1h1zM477 229h2v1h1v1h1v2h-1v1h-1v1h-2v-1h-1v-1h-1v-2h1v-1h1zM473 233h2v1h1v1h1v2h-1v1h-1v1h-2v-1h-1v-1h-1v-2h1v-1h1zM474 236h2v1h1v1h1v2h-1v1h-1v1h-2v-1h-1v-1h-1v-2h1v-1h1zM455 233h2v1h1v1h1v2h-1v1h-1v1h-2v-1h-1v-1h-1v-2h1v-1h1zM457 243h2v1h1v1h1v2h-1v1h-1v1h-2v-1h-1v-1h-1v-2h1v-1h1zM462 243h2v1h1v1h1v2h-1v1h-1v1h-2v-1h-1v-1h-1v-2h1v-1h1zM484 242h2v1h1v1h1v2h-1v1h-1v1h-2v-1h-1v-1h-1v-2h1v-1h1zM490 238h2v1h1v1h1v2h-1v1h-1v1h-2v-1h-1v-1h-1v-2h1v-1h1zM492 241h2v1h1v1h1v2h-1v1h-1v1h-2v-1h-1v-1h-1v-2h1v-1h1zM494 244h2v1h1v1h1v2h-1v1h-1v1h-2v-1h-1v-1h-1v-2h1v-1h1zM496 247h2v1h1v1h1v2h-1v1h-1v1h-2v-1h-1v-1h-1v-2h1v-1h1zM489 246h2v1h1v1h1v2h-1v1h-1v1h-2v-1h-1v-1h-1v-2h1v-1h1zM471 247h2v1h1v1h1v2h-1v1h-1v1h-2v-1h-1v-1h-1v-2h1v-1h1zM462 252h2v1h1v1h1v2h-1v1h-1v1h-2v-1h-1v-1h-1v-2h1v-1h1zM475 253h2v1h1v1h1v2h-1v1h-1v1h-2v-1h-1v-1h-1v-2h1v-1h1zM484 252h2v1h1v1h1v2h-1v1h-1v1h-2v-1h-1v-1h-1v-2h1v-1h1zM509 251h2v1h1v1h1v2h-1v1h-1v1h-2v-1h-1v-1h-1v-2h1v-1h1zM505 253h2v1h1v1h1v2h-1v1h-1v1h-2v-1h-1v-1h-1v-2h1v-1h1zM543 246h2v1h1v1h1v2h-1v1h-1v1h-2v-1h-1v-1h-1v-2h1v-1h1zM548 245h2v1h1v1h1v2h-1v1h-1v1h-2v-1h-1v-1h-1v-2h1v-1h1zM557 246h2v1h1v1h1v2h-1v1h-1v1h-2v-1h-1v-1h-1v-2h1v-1h1zM455 251h2v1h1v1h1v2h-1v1h-1v1h-2v-1h-1v-1h-1v-2h1v-1h1zM455 257h2v1h1v1h1v2h-1v1h-1v1h-2v-1h-1v-1h-1v-2h1v-1h1zM457 261h2v1h1v1h1v2h-1v1h-1v1h-2v-1h-1v-1h-1v-2h1v-1h1zM461 262h2v1h1v1h1v2h-1v1h-1v1h-2v-1h-1v-1h-1v-2h1v-1h1zM473 260h2v1h1v1h1v2h-1v1h-1v1h-2v-1h-1v-1h-1v-2h1v-1h1zM468 265h2v1h1v1h1v2h-1v1h-1v1h-2v-1h-1v-1h-1v-2h1v-1h1zM502 268h2v1h1v1h1v2h-1v1h-1v1h-2v-1h-1v-1h-1v-2h1v-1h1zM482 272h2v1h1v1h1v2h-1v1h-1v1h-2v-1h-1v-1h-1v-2h1v-1h1zM457 274h2v1h1v1h1v2h-1v1h-1v1h-2v-1h-1v-1h-1v-2h1v-1h1zM509 276h2v1h1v1h1v2h-1v1h-1v1h-2v-1h-1v-1h-1v-2h1v-1h1zM493 276h2v1h1v1h1v2h-1v1h-1v1h-2v-1h-1v-1h-1v-2h1v-1h1zM492 279h2v1h1v1h1v2h-1v1h-1v1h-2v-1h-1v-1h-1v-2h1v-1h1zM484 279h2v1h1v1h1v2h-1v1h-1v1h-2v-1h-1v-1h-1v-2h1v-1h1zM467 281h2v1h1v1h1v2h-1v1h-1v1h-2v-1h-1v-1h-1v-2h1v-1h1zM457 282h2v1h1v1h1v2h-1v1h-1v1h-2v-1h-1v-1h-1v-2h1v-1h1zM479 285h2v1h1v1h1v2h-1v1h-1v1h-2v-1h-1v-1h-1v-2h1v-1h1zM466 288h2v1h1v1h1v2h-1v1h-1v1h-2v-1h-1v-1h-1v-2h1v-1h1zM531 286h2v1h1v1h1v2h-1v1h-1v1h-2v-1h-1v-1h-1v-2h1v-1h1zM379 300h2v1h1v1h1v2h-1v1h-1v1h-2v-1h-1v-1h-1v-2h1v-1h1zM384 305h2v1h1v1h1v2h-1v1h-1v1h-2v-1h-1v-1h-1v-2h1v-1h1zM387 303h2v1h1v1h1v2h-1v1h-1v1h-2v-1h-1v-1h-1v-2h1v-1h1zM394 303h2v1h1v1h1v2h-1v1h-1v1h-2v-1h-1v-1h-1v-2h1v-1h1zM396 305h2v1h1v1h1v2h-1v1h-1v1h-2v-1h-1v-1h-1v-2h1v-1h1zM413 300h2v1h1v1h1v2h-1v1h-1v1h-2v-1h-1v-1h-1v-2h1v-1h1zM418 305h2v1h1v1h1v2h-1v1h-1v1h-2v-1h-1v-1h-1v-2h1v-1h1zM416 308h2v1h1v1h1v2h-1v1h-1v1h-2v-1h-1v-1h-1v-2h1v-1h1zM431 297h2v1h1v1h1v2h-1v1h-1v1h-2v-1h-1v-1h-1v-2h1v-1h1zM431 301h2v1h1v1h1v2h-1v1h-1v1h-2v-1h-1v-1h-1v-2h1v-1h1zM431 304h2v1h1v1h1v2h-1v1h-1v1h-2v-1h-1v-1h-1v-2h1v-1h1zM439 300h2v1h1v1h1v2h-1v1h-1v1h-2v-1h-1v-1h-1v-2h1v-1h1zM438 305h2v1h1v1h1v2h-1v1h-1v1h-2v-1h-1v-1h-1v-2h1v-1h1zM344 307h2v1h1v1h1v2h-1v1h-1v1h-2v-1h-1v-1h-1v-2h1v-1h1zM407 311h2v1h1v1h1v2h-1v1h-1v1h-2v-1h-1v-1h-1v-2h1v-1h1zM364 316h2v1h1v1h1v2h-1v1h-1v1h-2v-1h-1v-1h-1v-2h1v-1h1zM413 316h2v1h1v1h1v2h-1v1h-1v1h-2v-1h-1v-1h-1v-2h1v-1h1zM412 320h2v1h1v1h1v2h-1v1h-1v1h-2v-1h-1v-1h-1v-2h1v-1h1zM394 324h2v1h1v1h1v2h-1v1h-1v1h-2v-1h-1v-1h-1v-2h1v-1h1zM402 325h2v1h1v1h1v2h-1v1h-1v1h-2v-1h-1v-1h-1v-2h1v-1h1zM417 327h2v1h1v1h1v2h-1v1h-1v1h-2v-1h-1v-1h-1v-2h1v-1h1zM420 327h2v1h1v1h1v2h-1v1h-1v1h-2v-1h-1v-1h-1v-2h1v-1h1zM441 327h2v1h1v1h1v2h-1v1h-1v1h-2v-1h-1v-1h-1v-2h1v-1h1zM412 331h2v1h1v1h1v2h-1v1h-1v1h-2v-1h-1v-1h-1v-2h1v-1h1zM349 329h2v1h1v1h1v2h-1v1h-1v1h-2v-1h-1v-1h-1v-2h1v-1h1zM408 343h2v1h1v1h1v2h-1v1h-1v1h-2v-1h-1v-1h-1v-2h1v-1h1zM408 349h2v1h1v1h1v2h-1v1h-1v1h-2v-1h-1v-1h-1v-2h1v-1h1zM435 344h2v1h1v1h1v2h-1v1h-1v1h-2v-1h-1v-1h-1v-2h1v-1h1zM407 357h2v1h1v1h1v2h-1v1h-1v1h-2v-1h-1v-1h-1v-2h1v-1h1zM362 364h2v1h1v1h1v2h-1v1h-1v1h-2v-1h-1v-1h-1v-2h1v-1h1zM405 364h2v1h1v1h1v2h-1v1h-1v1h-2v-1h-1v-1h-1v-2h1v-1h1zM392 367h2v1h1v1h1v2h-1v1h-1v1h-2v-1h-1v-1h-1v-2h1v-1h1zM448 372h2v1h1v1h1v2h-1v1h-1v1h-2v-1h-1v-1h-1v-2h1v-1h1zM453 327h2v1h1v1h1v2h-1v1h-1v1h-2v-1h-1v-1h-1v-2h1v-1h1zM453 303h2v1h1v1h1v2h-1v1h-1v1h-2v-1h-1v-1h-1v-2h1v-1h1zM311 332h2v1h1v1h1v2h-1v1h-1v1h-2v-1h-1v-1h-1v-2h1v-1h1zM321 331h2v1h1v1h1v2h-1v1h-1v1h-2v-1h-1v-1h-1v-2h1v-1h1zM285 366h2v1h1v1h1v2h-1v1h-1v1h-2v-1h-1v-1h-1v-2h1v-1h1zM456 298h2v1h1v1h1v2h-1v1h-1v1h-2v-1h-1v-1h-1v-2h1v-1h1zM456 303h2v1h1v1h1v2h-1v1h-1v1h-2v-1h-1v-1h-1v-2h1v-1h1zM512 303h2v1h1v1h1v2h-1v1h-1v1h-2v-1h-1v-1h-1v-2h1v-1h1zM472 309h2v1h1v1h1v2h-1v1h-1v1h-2v-1h-1v-1h-1v-2h1v-1h1zM468 310h2v1h1v1h1v2h-1v1h-1v1h-2v-1h-1v-1h-1v-2h1v-1h1zM466 312h2v1h1v1h1v2h-1v1h-1v1h-2v-1h-1v-1h-1v-2h1v-1h1zM470 320h2v1h1v1h1v2h-1v1h-1v1h-2v-1h-1v-1h-1v-2h1v-1h1zM513 321h2v1h1v1h1v2h-1v1h-1v1h-2v-1h-1v-1h-1v-2h1v-1h1zM456 327h2v1h1v1h1v2h-1v1h-1v1h-2v-1h-1v-1h-1v-2h1v-1h1zM465 327h2v1h1v1h1v2h-1v1h-1v1h-2v-1h-1v-1h-1v-2h1v-1h1zM482 329h2v1h1v1h1v2h-1v1h-1v1h-2v-1h-1v-1h-1v-2h1v-1h1zM471 337h2v1h1v1h1v2h-1v1h-1v1h-2v-1h-1v-1h-1v-2h1v-1h1zM471 356h2v1h1v1h1v2h-1v1h-1v1h-2v-1h-1v-1h-1v-2h1v-1h1zM396 176h2v1h1v1h1v2h-1v1h-1v1h-2v-1h-1v-1h-1v-2h1v-1h1zM429 183h2v1h1v1h1v2h-1v1h-1v1h-2v-1h-1v-1h-1v-2h1v-1h1zM398 191h2v1h1v1h1v2h-1v1h-1v1h-2v-1h-1v-1h-1v-2h1v-1h1zM375 208h2v1h1v1h1v2h-1v1h-1v1h-2v-1h-1v-1h-1v-2h1v-1h1zM385 205h2v1h1v1h1v2h-1v1h-1v1h-2v-1h-1v-1h-1v-2h1v-1h1zM435 245h2v1h1v1h1v2h-1v1h-1v1h-2v-1h-1v-1h-1v-2h1v-1h1z"/>
<path fill="#f8766d" shape-rendering="crispEdges" d="M326 237h2v1h1v1h1v2h-1v1h-1v1h-2v-1h-1v-1h-1v-2h1v-1h1zM322 250h2v1h1v1h1v2h-1v1h-1v1h-2v-1h-1v-1h-1v-2h1v-1h1zM273 249h2v1h1v1h1v2h-1v1h-1v1h-2v-1h-1v-1h-1v-2h1v-1h1zM270 255h2v1h1v1h1v2h-1v1h-1v1h-2v-1h-1v-1h-1v-2h1v-1h1zM284 255h2v1h1v1h1v2h-1v1h-1v1h-2v-1h-1v-1h-1v-2h1v-1h1zM258 266h2v1h1v1h1v2h-1v1h-1v1h-2v-1h-1v-1h-1v-2h1v-1h1zM272 271h2v1h1v1h1v2h-1v1h-1v1h-2v-1h-1v-1h-1v-2h1v-1h1zM241 279h2v1h1v1h1v2h-1v1h-1v1h-2v-1h-1v-1h-1v-2h1v-1h1zM249 284h2v1h1v1h1v2h-1v1h-1v1h-2v-1h-1v-1h-1v-2h1v-1h1zM244 287h2v1h1v1h1v2h-1v1h-1v1h-2v-1h-1v-1h-1v-2h1v-1h1zM247 288h2v1h1v1h1v2h-1v1h-1v1h-2v-1h-1v-1h-1v-2h1v-1h1zM250 290h2v1h1v1h1v2h-1v1h-1v1h-2v-1h-1v-1h-1v-2h1v-1h1zM362 294h2v1h1v1h1v2h-1v1h-1v1h-2v-1h-1v-1h-1v-2h1v-1h1zM362 313h2v1h1v1h1v2h-1v1h-1v1h-2v-1h-1v-1h-1v-2h1v-1h1zM345 330h2v1h1v1h1v2h-1v1h-1v1h-2v-1h-1v-1h-1v-2h1v-1h1zM366 338h2v1h1v1h1v2h-1v1h-1v1h-2v-1h-1v-1h-1v-2h1v-1h1zM368 346h2v1h1v1h1v2h-1v1h-1v1h-2v-1h-1v-1h-1v-2h1v-1h1zM384 346h2v1h1v1h1v2h-1v1h-1v1h-2v-1h-1v-1h-1v-2h1v-1h1zM344 358h2v1h1v1h1v2h-1v1h-1v1h-2v-1h-1v-1h-1v-2h1v-1h1zM343 361h2v1h1v1h1v2h-1v1h-1v1h-2v-1h-1v-1h-1v-2h1v-1h1zM357 385h2v1h1v1h1v2h-1v1h-1v1h-2v-1h-1v-1h-1v-2h1v-1h1zM380 383h2v1h1v1h1v2h-1v1h-1v1h-2v-1h-1v-1h-1v-2h1v-1h1zM343 388h2v1h1v1h1v2h-1v1h-1v1h-2v-1h-1v-1h-1v-2h1v-1h1zM348 393h2v1h1v1h1v2h-1v1h-1v1h-2v-1h-1v-1h-1v-2h1v-1h1zM375 395h2v1h1v1h1v2h-1v1h-1v1h-2v-1h-1v-1h-1v-2h1v-1h1zM398 399h2v1h1v1h1v2h-1v1h-1v1h-2v-1h-1v-1h-1v-2h1v-1h1zM352 407h2v1h1v1h1v2h-1v1h-1v1h-2v-1h-1v-1h-1v-2h1v-1h1zM371 406h2v1h1v1h1v2h-1v1h-1v1h-2v-1h-1v-1h-1v-2h1v-1h1zM316 299h2v1h1v1h1v2h-1v1h-1v1h-2v-1h-1v-1h-1v-2h1v-1h1zM276 302h2v1h1v1h1v2h-1v1h-1v1h-2v-1h-1v-1h-1v-2h1v-1h1zM287 305h2v1h1v1h1v2h-1v1h-1v1h-2v-1h-1v-1h-1v-2h1v-1h1zM236 306h2v1h1v1h1v2h-1v1h-1v1h-2v-1h-1v-1h-1v-2h1v-1h1zM250 310h2v1h1v1h1v2h-1v1h-1v1h-2v-1h-1v-1h-1v-2h1v-1h1zM239 313h2v1h1v1h1v2h-1v1h-1v1h-2v-1h-1v-1h-1v-2h1v-1h1zM259 312h2v1h1v1h1v2h-1v1h-1v1h-2v-1h-1v-1h-1v-2h1v-1h1zM261 315h2v1h1v1h1v2h-1v1h-1v1h-2v-1h-1v-1h-1v-2h1v-1h1zM265 313h2v1h1v1h1v2h-1v1h-1v1h-2v-1h-1v-1h-1v-2h1v-1h1zM265 318h2v1h1v1h1v2h-1v1h-1v1h-2v-1h-1v-1h-1v-2h1v-1h1zM270 321h2v1h1v1h1v2h-1v1h-1v1h-2v-1h-1v-1h-1v-2h1v-1h1zM235 319h2v1h1v1h1v2h-1v1h-1v1h-2v-1h-1v-1h-1v-2h1v-1h1zM235 325h2v1h1v1h1v2h-1v1h-1v1h-2v-1h-1v-1h-1v-2h1v-1h1zM243 325h2v1h1v1h1v2h-1v1h-1v1h-2v-1h-1v-1h-1v-2h1v-1h1zM306 317h2v1h1v1h1v2h-1v1h-1v1h-2v-1h-1v-1h-1v-2h1v-1h1zM324 316h2v1h1v1h1v2h-1v1h-1v1h-2v-1h-1v-1h-1v-2h1v-1h1zM333 317h2v1h1v1h1v2h-1v1h-1v1h-2v-1h-1v-1h-1v-2h1v-1h1zM260 330h2v1h1v1h1v2h-1v1h-1v1h-2v-1h-1v-1h-1v-2h1v-1h1zM263 327h2v1h1v1h1v2h-1v1h-1v1h-2v-1h-1v-1h-1v-2h1v-1h1zM279 328h2v1h1v1h1v2h-1v1h-1v1h-2v-1h-1v-1h-1v-2h1v-1h1zM283 328h2v1h1v1h1v2h-1v1h-1v1h-2v-1h-1v-1h-1v-2h1v-1h1zM268 333h2v1h1v1h1v2h-1v1h-1v1h-2v-1h-1v-1h-1v-2h1v-1h1zM273 332h2v1h1v1h1v2h-1v1h-1v1h-2v-1h-1v-1h-1v-2h1v-1h1zM274 334h2v1h1v1h1v2h-1v1h-1v1h-2v-1h-1v-1h-1v-2h1v-1h1zM248 337h2v1h1v1h1v2h-1v1h-1v1h-2v-1h-1v-1h-1v-2h1v-1h1zM245 341h2v1h1v1h1v2h-1v1h-1v1h-2v-1h-1v-1h-1v-2h1v-1h1zM298 337h2v1h1v1h1v2h-1v1h-1v1h-2v-1h-1v-1h-1v-2h1v-1h1zM304 341h2v1h1v1h1v2h-1v1h-1v1h-2v-1h-1v-1h-1v-2h1v-1h1zM282 342h2v1h1v1h1v2h-1v1h-1v1h-2v-1h-1v-1h-1v-2h1v-1h1zM263 344h2v1h1v1h1v2h-1v1h-1v1h-2v-1h-1v-1h-1v-2h1v-1h1zM275 344h2v1h1v1h1v2h-1v1h-1v1h-2v-1h-1v-1h-1v-2h1v-1h1zM274 348h2v1h1v1h1v2h-1v1h-1v1h-2v-1h-1v-1h-1v-2h1v-1h1zM234 345h2v1h1v1h1v2h-1v1h-1v1h-2v-1h-1v-1h-1v-2h1v-1h1zM321 340h2v1h1v1h1v2h-1v1h-1v1h-2v-1h-1v-1h-1v-2h1v-1h1zM318 341h2v1h1v1h1v2h-1v1h-1v1h-2v-1h-1v-1h-1v-2h1v-1h1zM294 345h2v1h1v1h1v2h-1v1h-1v1h-2v-1h-1v-1h-1v-2h1v-1h1zM296 348h2v1h1v1h1v2h-1v1h-1v1h-2v-1h-1v-1h-1v-2h1v-1h1zM265 351h2v1h1v1h1v2h-1v1h-1v1h-2v-1h-1v-1h-1v-2h1v-1h1zM268 351h2v1h1v1h1v2h-1v1h-1v1h-2v-1h-1v-1h-1v-2h1v-1h1zM240 350h2v1h1v1h1v2h-1v1h-1v1h-2v-1h-1v-1h-1v-2h1v-1h1zM243 352h2v1h1v1h1v2h-1v1h-1v1h-2v-1h-1v-1h-1v-2h1v-1h1zM247 353h2v1h1v1h1v2h-1v1h-1v1h-2v-1h-1v-1h-1v-2h1v-1h1zM235 354h2v1h1v1h1v2h-1v1h-1v1h-2v-1h-1v-1h-1v-2h1v-1h1zM237 356h2v1h1v1h1v2h-1v1h-1v1h-2v-1h-1v-1h-1v-2h1v-1h1zM239 359h2v1h1v1h1v2h-1v1h-1v1h-2v-1h-1v-1h-1v-2h1v-1h1zM307 352h2v1h1v1h1v2h-1v1h-1v1h-2v-1h-1v-1h-1v-2h1v-1h1zM312 354h2v1h1v1h1v2h-1v1h-1v1h-2v-1h-1v-1h-1v-2h1v-1h1zM282 353h2v1h1v1h1v2h-1v1h-1v1h-2v-1h-1v-1h-1v-2h1v-1h1zM285 355h2v1h1v1h1v2h-1v1h-1v1h-2v-1h-1v-1h-1v-2h1v-1h1zM323 357h2v1h1v1h1v2h-1v1h-1v1h-2v-1h-1v-1h-1v-2h1v-1h1zM281 361h2v1h1v1h1v2h-1v1h-1v1h-2v-1h-1v-1h-1v-2h1v-1h1zM285 361h2v1h1v1h1v2h-1v1h-1v1h-2v-1h-1v-1h-1v-2h1v-1h1zM288 364h2v1h1v1h1v2h-1v1h-1v1h-2v-1h-1v-1h-1v-2h1v-1h1zM291 364h2v1h1v1h1v2h-1v1h-1v1h-2v-1h-1v-1h-1v-2h1v-1h1zM284 369h2v1h1v1h1v2h-1v1h-1v1h-2v-1h-1v-1h-1v-2h1v-1h1zM263 363h2v1h1v1h1v2h-1v1h-1v1h-2v-1h-1v-1h-1v-2h1v-1h1zM265 366h2v1h1v1h1v2h-1v1h-1v1h-2v-1h-1v-1h-1v-2h1v-1h1zM266 368h2v1h1v1h1v2h-1v1h-1v1h-2v-1h-1v-1h-1v-2h1v-1h1zM259 369h2v1h1v1h1v2h-1v1h-1v1h-2v-1h-1v-1h-1v-2h1v-1h1zM235 363h2v1h1v1h1v2h-1v1h-1v1h-2v-1h-1v-1h-1v-2h1v-1h1zM239 361h2v1h1v1h1v2h-1v1h-1v1h-2v-1h-1v-1h-1v-2h1v-1h1zM241 365h2v1h1v1h1v2h-1v1h-1v1h-2v-1h-1v-1h-1v-2h1v-1h1zM244 369h2v1h1v1h1v2h-1v1h-1v1h-2v-1h-1v-1h-1v-2h1v-1h1zM231 369h2v1h1v1h1v2h-1v1h-1v1h-2v-1h-1v-1h-1v-2h1v-1h1zM233 372h2v1h1v1h1v2h-1v1h-1v1h-2v-1h-1v-1h-1v-2h1v-1h1zM231 374h2v1h1v1h1v2h-1v1h-1v1h-2v-1h-1v-1h-1v-2h1v-1h1zM239 372h2v1h1v1h1v2h-1v1h-1v1h-2v-1h-1v-1h-1v-2h1v-1h1zM249 372h2v1h1v1h1v2h-1v1h-1v1h-2v-1h-1v-1h-1v-2h1v-1h1zM318 365h2v1h1v1h1v2h-1v1h-1v1h-2v-1h-1v-1h-1v-2h1v-1h1zM315 368h2v1h1v1h1v2h-1v1h-1v1h-2v-1h-1v-1h-1v-2h1v-1h1zM328 372h2v1h1v1h1v2h-1v1h-1v1h-2v-1h-1v-1h-1v-2h1v-1h1zM308 375h2v1h1v1h1v2h-1v1h-1v1h-2v-1h-1v-1h-1v-2h1v-1h1zM289 373h2v1h1v1h1v2h-1v1h-1v1h-2v-1h-1v-1h-1v-2h1v-1h1zM270 369h2v1h1v1h1v2h-1v1h-1v1h-2v-1h-1v-1h-1v-2h1v-1h1zM272 373h2v1h1v1h1v2h-1v1h-1v1h-2v-1h-1v-1h-1v-2h1v-1h1zM268 375h2v1h1v1h1v2h-1v1h-1v1h-2v-1h-1v-1h-1v-2h1v-1h1zM261 375h2v1h1v1h1v2h-1v1h-1v1h-2v-1h-1v-1h-1v-2h1v-1h1zM275 376h2v1h1v1h1v2h-1v1h-1v1h-2v-1h-1v-1h-1v-2h1v-1h1zM279 376h2v1h1v1h1v2h-1v1h-1v1h-2v-1h-1v-1h-1v-2h1v-1h1zM283 377h2v1h1v1h1v2h-1v1h-1v1h-2v-1h-1v-1h-1v-2h1v-1h1zM254 378h2v1h1v1h1v2h-1v1h-1v1h-2v-1h-1v-1h-1v-2h1v-1h1zM240 379h2v1h1v1h1v2h-1v1h-1v1h-2v-1h-1v-1h-1v-2h1v-1h1zM237 383h2v1h1v1h1v2h-1v1h-1v1h-2v-1h-1v-1h-1v-2h1v-1h1zM231 381h2v1h1v1h1v2h-1v1h-1v1h-2v-1h-1v-1h-1v-2h1v-1h1zM264 383h2v1h1v1h1v2h-1v1h-1v1h-2v-1h-1v-1h-1v-2h1v-1h1zM247 386h2v1h1v1h1v2h-1v1h-1v1h-2v-1h-1v-1h-1v-2h1v-1h1zM314 379h2v1h1v1h1v2h-1v1h-1v1h-2v-1h-1v-1h-1v-2h1v-1h1zM317 383h2v1h1v1h1v2h-1v1h-1v1h-2v-1h-1v-1h-1v-2h1v-1h1zM315 387h2v1h1v1h1v2h-1v1h-1v1h-2v-1h-1v-1h-1v-2h1v-1h1zM330 381h2v1h1v1h1v2h-1v1h-1v1h-2v-1h-1v-1h-1v-2h1v-1h1zM280 383h2v1h1v1h1v2h-1v1h-1v1h-2v-1h-1v-1h-1v-2h1v-1h1zM277 388h2v1h1v1h1v2h-1v1h-1v1h-2v-1h-1v-1h-1v-2h1v-1h1zM287 387h2v1h1v1h1v2h-1v1h-1v1h-2v-1h-1v-1h-1v-2h1v-1h1zM284 391h2v1h1v1h1v2h-1v1h-1v1h-2v-1h-1v-1h-1v-2h1v-1h1zM292 392h2v1h1v1h1v2h-1v1h-1v1h-2v-1h-1v-1h-1v-2h1v-1h1zM304 386h2v1h1v1h1v2h-1v1h-1v1h-2v-1h-1v-1h-1v-2h1v-1h1zM301 392h2v1h1v1h1v2h-1v1h-1v1h-2v-1h-1v-1h-1v-2h1v-1h1zM305 391h2v1h1v1h1v2h-1v1h-1v1h-2v-1h-1v-1h-1v-2h1v-1h1zM311 392h2v1h1v1h1v2h-1v1h-1v1h-2v-1h-1v-1h-1v-2h1v-1h1zM321 391h2v1h1v1h1v2h-1v1h-1v1h-2v-1h-1v-1h-1v-2h1v-1h1zM326 391h2v1h1v1h1v2h-1v1h-1v1h-2v-1h-1v-1h-1v-2h1v-1h1zM335 394h2v1h1v1h1v2h-1v1h-1v1h-2v-1h-1v-1h-1v-2h1v-1h1zM331 395h2v1h1v1h1v2h-1v1h-1v1h-2v-1h-1v-1h-1v-2h1v-1h1zM255 384h2v1h1v1h1v2h-1v1h-1v1h-2v-1h-1v-1h-1v-2h1v-1h1zM253 388h2v1h1v1h1v2h-1v1h-1v1h-2v-1h-1v-1h-1v-2h1v-1h1zM256 393h2v1h1v1h1v2h-1v1h-1v1h-2v-1h-1v-1h-1v-2h1v-1h1zM261 388h2v1h1v1h1v2h-1v1h-1v1h-2v-1h-1v-1h-1v-2h1v-1h1zM267 387h2v1h1v1h1v2h-1v1h-1v1h-2v-1h-1v-1h-1v-2h1v-1h1zM270 390h2v1h1v1h1v2h-1v1h-1v1h-2v-1h-1v-1h-1v-2h1v-1h1zM274 393h2v1h1v1h1v2h-1v1h-1v1h-2v-1h-1v-1h-1v-2h1v-1h1zM270 396h2v1h1v1h1v2h-1v1h-1v1h-2v-1h-1v-1h-1v-2h1v-1h1zM243 391h2v1h1v1h1v2h-1v1h-1v1h-2v-1h-1v-1h-1v-2h1v-1h1zM246 394h2v1h1v1h1v2h-1v1h-1v1h-2v-1h-1v-1h-1v-2h1v-1h1zM243 397h2v1h1v1h1v2h-1v1h-1v1h-2v-1h-1v-1h-1v-2h1v-1h1zM231 389h2v1h1v1h1v2h-1v1h-1v1h-2v-1h-1v-1h-1v-2h1v-1h1zM233 394h2v1h1v1h1v2h-1v1h-1v1h-2v-1h-1v-1h-1v-2h1v-1h1zM231 397h2v1h1v1h1v2h-1v1h-1v1h-2v-1h-1v-1h-1v-2h1v-1h1zM238 397h2v1h1v1h1v2h-1v1h-1v1h-2v-1h-1v-1h-1v-2h1v-1h1zM281 397h2v1h1v1h1v2h-1v1h-1v1h-2v-1h-1v-1h-1v-2h1v-1h1zM285 402h2v1h1v1h1v2h-1v1h-1v1h-2v-1h-1v-1h-1v-2h1v-1h1zM327 401h2v1h1v1h1v2h-1v1h-1v1h-2v-1h-1v-1h-1v-2h1v-1h1zM304 401h2v1h1v1h1v2h-1v1h-1v1h-2v-1h-1v-1h-1v-2h1v-1h1zM309 399h2v1h1v1h1v2h-1v1h-1v1h-2v-1h-1v-1h-1v-2h1v-1h1zM312 403h2v1h1v1h1v2h-1v1h-1v1h-2v-1h-1v-1h-1v-2h1v-1h1zM308 405h2v1h1v1h1v2h-1v1h-1v1h-2v-1h-1v-1h-1v-2h1v-1h1zM318 406h2v1h1v1h1v2h-1v1h-1v1h-2v-1h-1v-1h-1v-2h1v-1h1zM291 404h2v1h1v1h1v2h-1v1h-1v1h-2v-1h-1v-1h-1v-2h1v-1h1zM297 405h2v1h1v1h1v2h-1v1h-1v1h-2v-1h-1v-1h-1v-2h1v-1h1zM275 405h2v1h1v1h1v2h-1v1h-1v1h-2v-1h-1v-1h-1v-2h1v-1h1zM280 404h2v1h1v1h1v2h-1v1h-1v1h-2v-1h-1v-1h-1v-2h1v-1h1zM277 407h2v1h1v1h1v2h-1v1h-1v1h-2v-1h-1v-1h-1v-2h1v-1h1zM266 400h2v1h1v1h1v2h-1v1h-1v1h-2v-1h-1v-1h-1v-2h1v-1h1zM266 405h2v1h1v1h1v2h-1v1h-1v1h-2v-1h-1v-1h-1v-2h1v-1h1zM259 404h2v1h1v1h1v2h-1v1h-1v1h-2v-1h-1v-1h-1v-2h1v-1h1zM246 400h2v1h1v1h1v2h-1v1h-1v1h-2v-1h-1v-1h-1v-2h1v-1h1zM249 404h2v1h1v1h1v2h-1v1h-1v1h-2v-1h-1v-1h-1v-2h1v-1h1zM246 406h2v1h1v1h1v2h-1v1h-1v1h-2v-1h-1v-1h-1v-2h1v-1h1zM234 405h2v1h1v1h1v2h-1v1h-1v1h-2v-1h-1v-1h-1v-2h1v-1h1zM231 405h2v1h1v1h1v2h-1v1h-1v1h-2v-1h-1v-1h-1v-2h1v-1h1zM186 309h2v1h1v1h1v2h-1v1h-1v1h-2v-1h-1v-1h-1v-2h1v-1h1zM204 310h2v1h1v1h1v2h-1v1h-1v1h-2v-1h-1v-1h-1v-2h1v-1h1zM221 314h2v1h1v1h1v2h-1v1h-1v1h-2v-1h-1v-1h-1v-2h1v-1h1zM200 317h2v1h1v1h1v2h-1v1h-1v1h-2v-1h-1v-1h-1v-2h1v-1h1zM174 319h2v1h1v1h1v2h-1v1h-1v1h-2v-1h-1v-1h-1v-2h1v-1h1zM221 323h2v1h1v1h1v2h-1v1h-1v1h-2v-1h-1v-1h-1v-2h1v-1h1zM223 327h2v1h1v1h1v2h-1v1h-1v1h-2v-1h-1v-1h-1v-2h1v-1h1zM205 329h2v1h1v1h1v2h-1v1h-1v1h-2v-1h-1v-1h-1v-2h1v-1h1zM209 331h2v1h1v1h1v2h-1v1h-1v1h-2v-1h-1v-1h-1v-2h1v-1h1zM215 332h2v1h1v1h1v2h-1v1h-1v1h-2v-1h-1v-1h-1v-2h1v-1h1zM218 335h2v1h1v1h1v2h-1v1h-1v1h-2v-1h-1v-1h-1v-2h1v-1h1zM222 334h2v1h1v1h1v2h-1v1h-1v1h-2v-1h-1v-1h-1v-2h1v-1h1zM184 337h2v1h1v1h1v2h-1v1h-1v1h-2v-1h-1v-1h-1v-2h1v-1h1zM201 339h2v1h1v1h1v2h-1v1h-1v1h-2v-1h-1v-1h-1v-2h1v-1h1zM205 339h2v1h1v1h1v2h-1v1h-1v1h-2v-1h-1v-1h-1v-2h1v-1h1zM226 340h2v1h1v1h1v2h-1v1h-1v1h-2v-1h-1v-1h-1v-2h1v-1h1zM198 344h2v1h1v1h1v2h-1v1h-1v1h-2v-1h-1v-1h-1v-2h1v-1h1zM192 350h2v1h1v1h1v2h-1v1h-1v1h-2v-1h-1v-1h-1v-2h1v-1h1zM205 349h2v1h1v1h1v2h-1v1h-1v1h-2v-1h-1v-1h-1v-2h1v-1h1zM219 349h2v1h1v1h1v2h-1v1h-1v1h-2v-1h-1v-1h-1v-2h1v-1h1zM217 353h2v1h1v1h1v2h-1v1h-1v1h-2v-1h-1v-1h-1v-2h1v-1h1zM224 350h2v1h1v1h1v2h-1v1h-1v1h-2v-1h-1v-1h-1v-2h1v-1h1zM227 350h2v1h1v1h1v2h-1v1h-1v1h-2v-1h-1v-1h-1v-2h1v-1h1zM189 356h2v1h1v1h1v2h-1v1h-1v1h-2v-1h-1v-1h-1v-2h1v-1h1zM193 357h2v1h1v1h1v2h-1v1h-1v1h-2v-1h-1v-1h-1v-2h1v-1h1zM201 360h2v1h1v1h1v2h-1v1h-1v1h-2v-1h-1v-1h-1v-2h1v-1h1zM216 360h2v1h1v1h1v2h-1v1h-1v1h-2v-1h-1v-1h-1v-2h1v-1h1zM223 356h2v1h1v1h1v2h-1v1h-1v1h-2v-1h-1v-1h-1v-2h1v-1h1zM226 359h2v1h1v1h1v2h-1v1h-1v1h-2v-1h-1v-1h-1v-2h1v-1h1zM228 361h2v1h1v1h1v2h-1v1h-1v1h-2v-1h-1v-1h-1v-2h1v-1h1zM225 365h2v1h1v1h1v2h-1v1h-1v1h-2v-1h-1v-1h-1v-2h1v-1h1zM167 361h2v1h1v1h1v2h-1v1h-1v1h-2v-1h-1v-1h-1v-2h1v-1h1zM165 365h2v1h1v1h1v2h-1v1h-1v1h-2v-1h-1v-1h-1v-2h1v-1h1zM174 363h2v1h1v1h1v2h-1v1h-1v1h-2v-1h-1v-1h-1v-2h1v-1h1zM176 364h2v1h1v1h1v2h-1v1h-1v1h-2v-1h-1v-1h-1v-2h1v-1h1zM203 365h2v1h1v1h1v2h-1v1h-1v1h-2v-1h-1v-1h-1v-2h1v-1h1zM205 366h2v1h1v1h1v2h-1v1h-1v1h-2v-1h-1v-1h-1v-2h1v-1h1zM212 366h2v1h1v1h1v2h-1v1h-1v1h-2v-1h-1v-1h-1v-2h1v-1h1zM149 369h2v1h1v1h1v2h-1v1h-1v1h-2v-1h-1v-1h-1v-2h1v-1h1zM220 369h2v1h1v1h1v2h-1v1h-1v1h-2v-1h-1v-1h-1v-2h1v-1h1zM216 373h2v1h1v1h1v2h-1v1h-1v1h-2v-1h-1v-1h-1v-2h1v-1h1zM175 374h2v1h1v1h1v2h-1v1h-1v1h-2v-1h-1v-1h-1v-2h1v-1h1zM179 373h2v1h1v1h1v2h-1v1h-1v1h-2v-1h-1v-1h-1v-2h1v-1h1zM184 372h2v1h1v1h1v2h-1v1h-1v1h-2v-1h-1v-1h-1v-2h1v-1h1zM188 372h2v1h1v1h1v2h-1v1h-1v1h-2v-1h-1v-1h-1v-2h1v-1h1zM169 376h2v1h1v1h1v2h-1v1h-1v1h-2v-1h-1v-1h-1v-2h1v-1h1zM195 375h2v1h1v1h1v2h-1v1h-1v1h-2v-1h-1v-1h-1v-2h1v-1h1zM202 372h2v1h1v1h1v2h-1v1h-1v1h-2v-1h-1v-1h-1v-2h1v-1h1zM207 373h2v1h1v1h1v2h-1v1h-1v1h-2v-1h-1v-1h-1v-2h1v-1h1zM204 377h2v1h1v1h1v2h-1v1h-1v1h-2v-1h-1v-1h-1v-2h1v-1h1zM203 382h2v1h1v1h1v2h-1v1h-1v1h-2v-1h-1v-1h-1v-2h1v-1h1zM215 380h2v1h1v1h1v2h-1v1h-1v1h-2v-1h-1v-1h-1v-2h1v-1h1zM189 383h2v1h1v1h1v2h-1v1h-1v1h-2v-1h-1v-1h-1v-2h1v-1h1zM222 383h2v1h1v1h1v2h-1v1h-1v1h-2v-1h-1v-1h-1v-2h1v-1h1zM225 385h2v1h1v1h1v2h-1v1h-1v1h-2v-1h-1v-1h-1v-2h1v-1h1zM139 387h2v1h1v1h1v2h-1v1h-1v1h-2v-1h-1v-1h-1v-2h1v-1h1zM169 387h2v1h1v1h1v2h-1v1h-1v1h-2v-1h-1v-1h-1v-2h1v-1h1zM192 390h2v1h1v1h1v2h-1v1h-1v1h-2v-1h-1v-1h-1v-2h1v-1h1zM196 394h2v1h1v1h1v2h-1v1h-1v1h-2v-1h-1v-1h-1v-2h1v-1h1zM202 393h2v1h1v1h1v2h-1v1h-1v1h-2v-1h-1v-1h-1v-2h1v-1h1zM212 390h2v1h1v1h1v2h-1v1h-1v1h-2v-1h-1v-1h-1v-2h1v-1h1zM214 390h2v1h1v1h1v2h-1v1h-1v1h-2v-1h-1v-1h-1v-2h1v-1h1zM227 391h2v1h1v1h1v2h-1v1h-1v1h-2v-1h-1v-1h-1v-2h1v-1h1zM219 397h2v1h1v1h1v2h-1v1h-1v1h-2v-1h-1v-1h-1v-2h1v-1h1zM181 397h2v1h1v1h1v2h-1v1h-1v1h-2v-1h-1v-1h-1v-2h1v-1h1zM127 400h2v1h1v1h1v2h-1v1h-1v1h-2v-1h-1v-1h-1v-2h1v-1h1zM186 401h2v1h1v1h1v2h-1v1h-1v1h-2v-1h-1v-1h-1v-2h1v-1h1zM174 403h2v1h1v1h1v2h-1v1h-1v1h-2v-1h-1v-1h-1v-2h1v-1h1zM167 407h2v1h1v1h1v2h-1v1h-1v1h-2v-1h-1v-1h-1v-2h1v-1h1zM206 406h2v1h1v1h1v2h-1v1h-1v1h-2v-1h-1v-1h-1v-2h1v-1h1zM209 405h2v1h1v1h1v2h-1v1h-1v1h-2v-1h-1v-1h-1v-2h1v-1h1zM199 407h2v1h1v1h1v2h-1v1h-1v1h-2v-1h-1v-1h-1v-2h1v-1h1zM227 406h2v1h1v1h1v2h-1v1h-1v1h-2v-1h-1v-1h-1v-2h1v-1h1zM231 411h2v1h1v1h1v2h-1v1h-1v1h-2v-1h-1v-1h-1v-2h1v-1h1zM234 415h2v1h1v1h1v2h-1v1h-1v1h-2v-1h-1v-1h-1v-2h1v-1h1zM231 419h2v1h1v1h1v2h-1v1h-1v1h-2v-1h-1v-1h-1v-2h1v-1h1zM237 410h2v1h1v1h1v2h-1v1h-1v1h-2v-1h-1v-1h-1v-2h1v-1h1zM241 414h2v1h1v1h1v2h-1v1h-1v1h-2v-1h-1v-1h-1v-2h1v-1h1zM256 413h2v1h1v1h1v2h-1v1h-1v1h-2v-1h-1v-1h-1v-2h1v-1h1zM261 410h2v1h1v1h1v2h-1v1h-1v1h-2v-1h-1v-1h-1v-2h1v-1h1zM266 413h2v1h1v1h1v2h-1v1h-1v1h-2v-1h-1v-1h-1v-2h1v-1h1zM268 417h2v1h1v1h1v2h-1v1h-1v1h-2v-1h-1v-1h-1v-2h1v-1h1zM265 421h2v1h1v1h1v2h-1v1h-1v1h-2v-1h-1v-1h-1v-2h1v-1h1zM269 409h2v1h1v1h1v2h-1v1h-1v1h-2v-1h-1v-1h-1v-2h1v-1h1zM275 415h2v1h1v1h1v2h-1v1h-1v1h-2v-1h-1v-1h-1v-2h1v-1h1zM288 410h2v1h1v1h1v2h-1v1h-1v1h-2v-1h-1v-1h-1v-2h1v-1h1zM285 413h2v1h1v1h1v2h-1v1h-1v1h-2v-1h-1v-1h-1v-2h1v-1h1zM289 415h2v1h1v1h1v2h-1v1h-1v1h-2v-1h-1v-1h-1v-2h1v-1h1zM283 417h2v1h1v1h1v2h-1v1h-1v1h-2v-1h-1v-1h-1v-2h1v-1h1zM312 409h2v1h1v1h1v2h-1v1h-1v1h-2v-1h-1v-1h-1v-2h1v-1h1zM323 409h2v1h1v1h1v2h-1v1h-1v1h-2v-1h-1v-1h-1v-2h1v-1h1zM337 411h2v1h1v1h1v2h-1v1h-1v1h-2v-1h-1v-1h-1v-2h1v-1h1zM301 417h2v1h1v1h1v2h-1v1h-1v1h-2v-1h-1v-1h-1v-2h1v-1h1zM310 421h2v1h1v1h1v2h-1v1h-1v1h-2v-1h-1v-1h-1v-2h1v-1h1zM319 417h2v1h1v1h1v2h-1v1h-1v1h-2v-1h-1v-1h-1v-2h1v-1h1zM321 421h2v1h1v1h1v2h-1v1h-1v1h-2v-1h-1v-1h-1v-2h1v-1h1zM324 423h2v1h1v1h1v2h-1v1h-1v1h-2v-1h-1v-1h-1v-2h1v-1h1zM240 424h2v1h1v1h1v2h-1v1h-1v1h-2v-1h-1v-1h-1v-2h1v-1h1zM245 420h2v1h1v1h1v2h-1v1h-1v1h-2v-1h-1v-1h-1v-2h1v-1h1zM249 421h2v1h1v1h1v2h-1v1h-1v1h-2v-1h-1v-1h-1v-2h1v-1h1zM247 425h2v1h1v1h1v2h-1v1h-1v1h-2v-1h-1v-1h-1v-2h1v-1h1zM250 427h2v1h1v1h1v2h-1v1h-1v1h-2v-1h-1v-1h-1v-2h1v-1h1zM248 431h2v1h1v1h1v2h-1v1h-1v1h-2v-1h-1v-1h-1v-2h1v-1h1zM253 432h2v1h1v1h1v2h-1v1h-1v1h-2v-1h-1v-1h-1v-2h1v-1h1zM251 435h2v1h1v1h1v2h-1v1h-1v1h-2v-1h-1v-1h-1v-2h1v-1h1zM245 433h2v1h1v1h1v2h-1v1h-1v1h-2v-1h-1v-1h-1v-2h1v-1h1zM241 436h2v1h1v1h1v2h-1v1h-1v1h-2v-1h-1v-1h-1v-2h1v-1h1zM237 437h2v1h1v1h1v2h-1v1h-1v1h-2v-1h-1v-1h-1v-2h1v-1h1zM231 425h2v1h1v1h1v2h-1v1h-1v1h-2v-1h-1v-1h-1v-2h1v-1h1zM231 430h2v1h1v1h1v2h-1v1h-1v1h-2v-1h-1v-1h-1v-2h1v-1h1zM258 425h2v1h1v1h1v2h-1v1h-1v1h-2v-1h-1v-1h-1v-2h1v-1h1zM263 432h2v1h1v1h1v2h-1v1h-1v1h-2v-1h-1v-1h-1v-2h1v-1h1zM271 427h2v1h1v1h1v2h-1v1h-1v1h-2v-1h-1v-1h-1v-2h1v-1h1zM272 431h2v1h1v1h1v2h-1v1h-1v1h-2v-1h-1v-1h-1v-2h1v-1h1zM275 433h2v1h1v1h1v2h-1v1h-1v1h-2v-1h-1v-1h-1v-2h1v-1h1zM270 435h2v1h1v1h1v2h-1v1h-1v1h-2v-1h-1v-1h-1v-2h1v-1h1zM277 438h2v1h1v1h1v2h-1v1h-1v1h-2v-1h-1v-1h-1v-2h1v-1h1zM278 423h2v1h1v1h1v2h-1v1h-1v1h-2v-1h-1v-1h-1v-2h1v-1h1zM280 424h2v1h1v1h1v2h-1v1h-1v1h-2v-1h-1v-1h-1v-2h1v-1h1zM290 424h2v1h1v1h1v2h-1v1h-1v1h-2v-1h-1v-1h-1v-2h1v-1h1zM287 430h2v1h1v1h1v2h-1v1h-1v1h-2v-1h-1v-1h-1v-2h1v-1h1zM287 434h2v1h1v1h1v2h-1v1h-1v1h-2v-1h-1v-1h-1v-2h1v-1h1zM298 433h2v1h1v1h1v2h-1v1h-1v1h-2v-1h-1v-1h-1v-2h1v-1h1zM305 438h2v1h1v1h1v2h-1v1h-1v1h-2v-1h-1v-1h-1v-2h1v-1h1zM337 427h2v1h1v1h1v2h-1v1h-1v1h-2v-1h-1v-1h-1v-2h1v-1h1zM314 431h2v1h1v1h1v2h-1v1h-1v1h-2v-1h-1v-1h-1v-2h1v-1h1zM315 435h2v1h1v1h1v2h-1v1h-1v1h-2v-1h-1v-1h-1v-2h1v-1h1zM318 438h2v1h1v1h1v2h-1v1h-1v1h-2v-1h-1v-1h-1v-2h1v-1h1zM333 436h2v1h1v1h1v2h-1v1h-1v1h-2v-1h-1v-1h-1v-2h1v-1h1zM337 443h2v1h1v1h1v2h-1v1h-1v1h-2v-1h-1v-1h-1v-2h1v-1h1zM338 446h2v1h1v1h1v2h-1v1h-1v1h-2v-1h-1v-1h-1v-2h1v-1h1zM268 442h2v1h1v1h1v2h-1v1h-1v1h-2v-1h-1v-1h-1v-2h1v-1h1zM294 439h2v1h1v1h1v2h-1v1h-1v1h-2v-1h-1v-1h-1v-2h1v-1h1zM291 444h2v1h1v1h1v2h-1v1h-1v1h-2v-1h-1v-1h-1v-2h1v-1h1zM289 447h2v1h1v1h1v2h-1v1h-1v1h-2v-1h-1v-1h-1v-2h1v-1h1zM296 447h2v1h1v1h1v2h-1v1h-1v1h-2v-1h-1v-1h-1v-2h1v-1h1zM294 451h2v1h1v1h1v2h-1v1h-1v1h-2v-1h-1v-1h-1v-2h1v-1h1zM299 453h2v1h1v1h1v2h-1v1h-1v1h-2v-1h-1v-1h-1v-2h1v-1h1zM316 446h2v1h1v1h1v2h-1v1h-1v1h-2v-1h-1v-1h-1v-2h1v-1h1zM323 448h2v1h1v1h1v2h-1v1h-1v1h-2v-1h-1v-1h-1v-2h1v-1h1zM311 452h2v1h1v1h1v2h-1v1h-1v1h-2v-1h-1v-1h-1v-2h1v-1h1zM239 444h2v1h1v1h1v2h-1v1h-1v1h-2v-1h-1v-1h-1v-2h1v-1h1zM243 446h2v1h1v1h1v2h-1v1h-1v1h-2v-1h-1v-1h-1v-2h1v-1h1zM252 444h2v1h1v1h1v2h-1v1h-1v1h-2v-1h-1v-1h-1v-2h1v-1h1zM253 448h2v1h1v1h1v2h-1v1h-1v1h-2v-1h-1v-1h-1v-2h1v-1h1zM231 449h2v1h1v1h1v2h-1v1h-1v1h-2v-1h-1v-1h-1v-2h1v-1h1zM234 451h2v1h1v1h1v2h-1v1h-1v1h-2v-1h-1v-1h-1v-2h1v-1h1zM237 453h2v1h1v1h1v2h-1v1h-1v1h-2v-1h-1v-1h-1v-2h1v-1h1zM240 456h2v1h1v1h1v2h-1v1h-1v1h-2v-1h-1v-1h-1v-2h1v-1h1zM245 457h2v1h1v1h1v2h-1v1h-1v1h-2v-1h-1v-1h-1v-2h1v-1h1zM265 451h2v1h1v1h1v2h-1v1h-1v1h-2v-1h-1v-1h-1v-2h1v-1h1zM279 451h2v1h1v1h1v2h-1v1h-1v1h-2v-1h-1v-1h-1v-2h1v-1h1zM282 452h2v1h1v1h1v2h-1v1h-1v1h-2v-1h-1v-1h-1v-2h1v-1h1zM284 458h2v1h1v1h1v2h-1v1h-1v1h-2v-1h-1v-1h-1v-2h1v-1h1zM298 458h2v1h1v1h1v2h-1v1h-1v1h-2v-1h-1v-1h-1v-2h1v-1h1zM305 458h2v1h1v1h1v2h-1v1h-1v1h-2v-1h-1v-1h-1v-2h1v-1h1zM308 457h2v1h1v1h1v2h-1v1h-1v1h-2v-1h-1v-1h-1v-2h1v-1h1zM254 455h2v1h1v1h1v2h-1v1h-1v1h-2v-1h-1v-1h-1v-2h1v-1h1zM257 458h2v1h1v1h1v2h-1v1h-1v1h-2v-1h-1v-1h-1v-2h1v-1h1zM258 463h2v1h1v1h1v2h-1v1h-1v1h-2v-1h-1v-1h-1v-2h1v-1h1zM252 461h2v1h1v1h1v2h-1v1h-1v1h-2v-1h-1v-1h-1v-2h1v-1h1zM249 466h2v1h1v1h1v2h-1v1h-1v1h-2v-1h-1v-1h-1v-2h1v-1h1zM253 468h2v1h1v1h1v2h-1v1h-1v1h-2v-1h-1v-1h-1v-2h1v-1h1zM255 471h2v1h1v1h1v2h-1v1h-1v1h-2v-1h-1v-1h-1v-2h1v-1h1zM259 470h2v1h1v1h1v2h-1v1h-1v1h-2v-1h-1v-1h-1v-2h1v-1h1zM236 463h2v1h1v1h1v2h-1v1h-1v1h-2v-1h-1v-1h-1v-2h1v-1h1zM242 465h2v1h1v1h1v2h-1v1h-1v1h-2v-1h-1v-1h-1v-2h1v-1h1zM332 461h2v1h1v1h1v2h-1v1h-1v1h-2v-1h-1v-1h-1v-2h1v-1h1zM310 463h2v1h1v1h1v2h-1v1h-1v1h-2v-1h-1v-1h-1v-2h1v-1h1zM305 465h2v1h1v1h1v2h-1v1h-1v1h-2v-1h-1v-1h-1v-2h1v-1h1zM308 466h2v1h1v1h1v2h-1v1h-1v1h-2v-1h-1v-1h-1v-2h1v-1h1zM296 466h2v1h1v1h1v2h-1v1h-1v1h-2v-1h-1v-1h-1v-2h1v-1h1zM289 469h2v1h1v1h1v2h-1v1h-1v1h-2v-1h-1v-1h-1v-2h1v-1h1zM335 470h2v1h1v1h1v2h-1v1h-1v1h-2v-1h-1v-1h-1v-2h1v-1h1zM234 474h2v1h1v1h1v2h-1v1h-1v1h-2v-1h-1v-1h-1v-2h1v-1h1zM240 474h2v1h1v1h1v2h-1v1h-1v1h-2v-1h-1v-1h-1v-2h1v-1h1zM244 472h2v1h1v1h1v2h-1v1h-1v1h-2v-1h-1v-1h-1v-2h1v-1h1zM247 474h2v1h1v1h1v2h-1v1h-1v1h-2v-1h-1v-1h-1v-2h1v-1h1zM243 477h2v1h1v1h1v2h-1v1h-1v1h-2v-1h-1v-1h-1v-2h1v-1h1zM245 481h2v1h1v1h1v2h-1v1h-1v1h-2v-1h-1v-1h-1v-2h1v-1h1zM252 478h2v1h1v1h1v2h-1v1h-1v1h-2v-1h-1v-1h-1v-2h1v-1h1zM262 479h2v1h1v1h1v2h-1v1h-1v1h-2v-1h-1v-1h-1v-2h1v-1h1zM286 475h2v1h1v1h1v2h-1v1h-1v1h-2v-1h-1v-1h-1v-2h1v-1h1zM281 478h2v1h1v1h1v2h-1v1h-1v1h-2v-1h-1v-1h-1v-2h1v-1h1zM325 474h2v1h1v1h1v2h-1v1h-1v1h-2v-1h-1v-1h-1v-2h1v-1h1zM239 483h2v1h1v1h1v2h-1v1h-1v1h-2v-1h-1v-1h-1v-2h1v-1h1zM241 487h2v1h1v1h1v2h-1v1h-1v1h-2v-1h-1v-1h-1v-2h1v-1h1zM239 493h2v1h1v1h1v2h-1v1h-1v1h-2v-1h-1v-1h-1v-2h1v-1h1zM268 488h2v1h1v1h1v2h-1v1h-1v1h-2v-1h-1v-1h-1v-2h1v-1h1zM284 488h2v1h1v1h1v2h-1v1h-1v1h-2v-1h-1v-1h-1v-2h1v-1h1zM303 489h2v1h1v1h1v2h-1v1h-1v1h-2v-1h-1v-1h-1v-2h1v-1h1zM315 486h2v1h1v1h1v2h-1v1h-1v1h-2v-1h-1v-1h-1v-2h1v-1h1zM312 491h2v1h1v1h1v2h-1v1h-1v1h-2v-1h-1v-1h-1v-2h1v-1h1zM255 499h2v1h1v1h1v2h-1v1h-1v1h-2v-1h-1v-1h-1v-2h1v-1h1zM271 503h2v1h1v1h1v2h-1v1h-1v1h-2v-1h-1v-1h-1v-2h1v-1h1zM293 498h2v1h1v1h1v2h-1v1h-1v1h-2v-1h-1v-1h-1v-2h1v-1h1zM282 506h2v1h1v1h1v2h-1v1h-1v1h-2v-1h-1v-1h-1v-2h1v-1h1zM297 505h2v1h1v1h1v2h-1v1h-1v1h-2v-1h-1v-1h-1v-2h1v-1h1zM295 508h2v1h1v1h1v2h-1v1h-1v1h-2v-1h-1v-1h-1v-2h1v-1h1zM319 512h2v1h1v1h1v2h-1v1h-1v1h-2v-1h-1v-1h-1v-2h1v-1h1zM246 511h2v1h1v1h1v2h-1v1h-1v1h-2v-1h-1v-1h-1v-2h1v-1h1zM248 519h2v1h1v1h1v2h-1v1h-1v1h-2v-1h-1v-1h-1v-2h1v-1h1zM277 519h2v1h1v1h1v2h-1v1h-1v1h-2v-1h-1v-1h-1v-2h1v-1h1zM157 416h2v1h1v1h1v2h-1v1h-1v1h-2v-1h-1v-1h-1v-2h1v-1h1zM193 411h2v1h1v1h1v2h-1v1h-1v1h-2v-1h-1v-1h-1v-2h1v-1h1zM191 414h2v1h1v1h1v2h-1v1h-1v1h-2v-1h-1v-1h-1v-2h1v-1h1zM189 416h2v1h1v1h1v2h-1v1h-1v1h-2v-1h-1v-1h-1v-2h1v-1h1zM199 416h2v1h1v1h1v2h-1v1h-1v1h-2v-1h-1v-1h-1v-2h1v-1h1zM203 419h2v1h1v1h1v2h-1v1h-1v1h-2v-1h-1v-1h-1v-2h1v-1h1zM213 416h2v1h1v1h1v2h-1v1h-1v1h-2v-1h-1v-1h-1v-2h1v-1h1zM218 419h2v1h1v1h1v2h-1v1h-1v1h-2v-1h-1v-1h-1v-2h1v-1h1zM211 425h2v1h1v1h1v2h-1v1h-1v1h-2v-1h-1v-1h-1v-2h1v-1h1zM195 427h2v1h1v1h1v2h-1v1h-1v1h-2v-1h-1v-1h-1v-2h1v-1h1zM219 425h2v1h1v1h1v2h-1v1h-1v1h-2v-1h-1v-1h-1v-2h1v-1h1zM223 425h2v1h1v1h1v2h-1v1h-1v1h-2v-1h-1v-1h-1v-2h1v-1h1zM227 424h2v1h1v1h1v2h-1v1h-1v1h-2v-1h-1v-1h-1v-2h1v-1h1zM216 430h2v1h1v1h1v2h-1v1h-1v1h-2v-1h-1v-1h-1v-2h1v-1h1zM221 432h2v1h1v1h1v2h-1v1h-1v1h-2v-1h-1v-1h-1v-2h1v-1h1zM172 432h2v1h1v1h1v2h-1v1h-1v1h-2v-1h-1v-1h-1v-2h1v-1h1zM176 436h2v1h1v1h1v2h-1v1h-1v1h-2v-1h-1v-1h-1v-2h1v-1h1zM206 433h2v1h1v1h1v2h-1v1h-1v1h-2v-1h-1v-1h-1v-2h1v-1h1zM209 437h2v1h1v1h1v2h-1v1h-1v1h-2v-1h-1v-1h-1v-2h1v-1h1zM212 441h2v1h1v1h1v2h-1v1h-1v1h-2v-1h-1v-1h-1v-2h1v-1h1zM150 442h2v1h1v1h1v2h-1v1h-1v1h-2v-1h-1v-1h-1v-2h1v-1h1zM156 447h2v1h1v1h1v2h-1v1h-1v1h-2v-1h-1v-1h-1v-2h1v-1h1zM181 445h2v1h1v1h1v2h-1v1h-1v1h-2v-1h-1v-1h-1v-2h1v-1h1zM203 445h2v1h1v1h1v2h-1v1h-1v1h-2v-1h-1v-1h-1v-2h1v-1h1zM220 444h2v1h1v1h1v2h-1v1h-1v1h-2v-1h-1v-1h-1v-2h1v-1h1zM195 450h2v1h1v1h1v2h-1v1h-1v1h-2v-1h-1v-1h-1v-2h1v-1h1zM196 453h2v1h1v1h1v2h-1v1h-1v1h-2v-1h-1v-1h-1v-2h1v-1h1zM201 452h2v1h1v1h1v2h-1v1h-1v1h-2v-1h-1v-1h-1v-2h1v-1h1zM209 451h2v1h1v1h1v2h-1v1h-1v1h-2v-1h-1v-1h-1v-2h1v-1h1zM212 454h2v1h1v1h1v2h-1v1h-1v1h-2v-1h-1v-1h-1v-2h1v-1h1zM164 457h2v1h1v1h1v2h-1v1h-1v1h-2v-1h-1v-1h-1v-2h1v-1h1zM196 459h2v1h1v1h1v2h-1v1h-1v1h-2v-1h-1v-1h-1v-2h1v-1h1zM188 463h2v1h1v1h1v2h-1v1h-1v1h-2v-1h-1v-1h-1v-2h1v-1h1zM190 468h2v1h1v1h1v2h-1v1h-1v1h-2v-1h-1v-1h-1v-2h1v-1h1zM200 466h2v1h1v1h1v2h-1v1h-1v1h-2v-1h-1v-1h-1v-2h1v-1h1zM226 462h2v1h1v1h1v2h-1v1h-1v1h-2v-1h-1v-1h-1v-2h1v-1h1zM206 472h2v1h1v1h1v2h-1v1h-1v1h-2v-1h-1v-1h-1v-2h1v-1h1zM227 471h2v1h1v1h1v2h-1v1h-1v1h-2v-1h-1v-1h-1v-2h1v-1h1zM134 477h2v1h1v1h1v2h-1v1h-1v1h-2v-1h-1v-1h-1v-2h1v-1h1zM152 483h2v1h1v1h1v2h-1v1h-1v1h-2v-1h-1v-1h-1v-2h1v-1h1zM180 481h2v1h1v1h1v2h-1v1h-1v1h-2v-1h-1v-1h-1v-2h1v-1h1zM197 480h2v1h1v1h1v2h-1v1h-1v1h-2v-1h-1v-1h-1v-2h1v-1h1zM226 479h2v1h1v1h1v2h-1v1h-1v1h-2v-1h-1v-1h-1v-2h1v-1h1zM182 488h2v1h1v1h1v2h-1v1h-1v1h-2v-1h-1v-1h-1v-2h1v-1h1zM201 487h2v1h1v1h1v2h-1v1h-1v1h-2v-1h-1v-1h-1v-2h1v-1h1zM209 488h2v1h1v1h1v2h-1v1h-1v1h-2v-1h-1v-1h-1v-2h1v-1h1zM226 485h2v1h1v1h1v2h-1v1h-1v1h-2v-1h-1v-1h-1v-2h1v-1h1zM170 493h2v1h1v1h1v2h-1v1h-1v1h-2v-1h-1v-1h-1v-2h1v-1h1zM179 503h2v1h1v1h1v2h-1v1h-1v1h-2v-1h-1v-1h-1v-2h1v-1h1zM212 501h2v1h1v1h1v2h-1v1h-1v1h-2v-1h-1v-1h-1v-2h1v-1h1zM151 511h2v1h1v1h1v2h-1v1h-1v1h-2v-1h-1v-1h-1v-2h1v-1h1zM196 517h2v1h1v1h1v2h-1v1h-1v1h-2v-1h-1v-1h-1v-2h1v-1h1zM175 519h2v1h1v1h1v2h-1v1h-1v1h-2v-1h-1v-1h-1v-2h1v-1h1zM208 519h2v1h1v1h1v2h-1v1h-1v1h-2v-1h-1v-1h-1v-2h1v-1h1zM375 418h2v1h1v1h1v2h-1v1h-1v1h-2v-1h-1v-1h-1v-2h1v-1h1zM345 424h2v1h1v1h1v2h-1v1h-1v1h-2v-1h-1v-1h-1v-2h1v-1h1zM373 431h2v1h1v1h1v2h-1v1h-1v1h-2v-1h-1v-1h-1v-2h1v-1h1zM353 437h2v1h1v1h1v2h-1v1h-1v1h-2v-1h-1v-1h-1v-2h1v-1h1zM367 439h2v1h1v1h1v2h-1v1h-1v1h-2v-1h-1v-1h-1v-2h1v-1h1zM373 446h2v1h1v1h1v2h-1v1h-1v1h-2v-1h-1v-1h-1v-2h1v-1h1zM384 449h2v1h1v1h1v2h-1v1h-1v1h-2v-1h-1v-1h-1v-2h1v-1h1zM399 471h2v1h1v1h1v2h-1v1h-1v1h-2v-1h-1v-1h-1v-2h1v-1h1zM243 522h2v1h1v1h1v2h-1v1h-1v1h-2v-1h-1v-1h-1v-2h1v-1h1zM262 521h2v1h1v1h1v2h-1v1h-1v1h-2v-1h-1v-1h-1v-2h1v-1h1zM268 526h2v1h1v1h1v2h-1v1h-1v1h-2v-1h-1v-1h-1v-2h1v-1h1zM300 524h2v1h1v1h1v2h-1v1h-1v1h-2v-1h-1v-1h-1v-2h1v-1h1zM253 535h2v1h1v1h1v2h-1v1h-1v1h-2v-1h-1v-1h-1v-2h1v-1h1zM302 533h2v1h1v1h1v2h-1v1h-1v1h-2v-1h-1v-1h-1v-2h1v-1h1zM291 538h2v1h1v1h1v2h-1v1h-1v1h-2v-1h-1v-1h-1v-2h1v-1h1zM308 551h2v1h1v1h1v2h-1v1h-1v1h-2v-1h-1v-1h-1v-2h1v-1h1zM277 559h2v1h1v1h1v2h-1v1h-1v1h-2v-1h-1v-1h-1v-2h1v-1h1zM306 588h2v1h1v1h1v2h-1v1h-1v1h-2v-1h-1v-1h-1v-2h1v-1h1zM196 523h2v1h1v1h1v2h-1v1h-1v1h-2v-1h-1v-1h-1v-2h1v-1h1zM192 527h2v1h1v1h1v2h-1v1h-1v1h-2v-1h-1v-1h-1v-2h1v-1h1zM221 272h2v1h1v1h1v2h-1v1h-1v1h-2v-1h-1v-1h-1v-2h1v-1h1zM86 312h2v1h1v1h1v2h-1v1h-1v1h-2v-1h-1v-1h-1v-2h1v-1h1zM106 396h2v1h1v1h1v2h-1v1h-1v1h-2v-1h-1v-1h-1v-2h1v-1h1zM106 454h2v1h1v1h1v2h-1v1h-1v1h-2v-1h-1v-1h-1v-2h1v-1h1zM227 384h2v1h1v1h1v2h-1v1h-1v1h-2v-1h-1v-1h-1v-2h1v-1h1zM235 408h2v1h1v1h1v2h-1v1h-1v1h-2v-1h-1v-1h-1v-2h1v-1h1zM234 413h2v1h1v1h1v2h-1v1h-1v1h-2v-1h-1v-1h-1v-2h1v-1h1zM231 419h2v1h1v1h1v2h-1v1h-1v1h-2v-1h-1v-1h-1v-2h1v-1h1zM280 423h2v1h1v1h1v2h-1v1h-1v1h-2v-1h-1v-1h-1v-2h1v-1h1zM291 424h2v1h1v1h1v2h-1v1h-1v1h-2v-1h-1v-1h-1v-2h1v-1h1zM233 411h2v1h1v1h1v2h-1v1h-1v1h-2v-1h-1v-1h-1v-2h1v-1h1zM236 416h2v1h1v1h1v2h-1v1h-1v1h-2v-1h-1v-1h-1v-2h1v-1h1z"/>
<path fill="#0000ff" shape-rendering="crispEdges" d="M63 79h1v1h-1zM64 80h1v1h-1zM65 81h1v1h-1zM69 84h1v1h-1zM70 85h1v1h-1zM71 86h1v1h-1zM76 91h1v1h-1zM77 92h1v1h-1zM78 93h1v1h-1zM82 96h1v1h-1zM83 97h1v1h-1zM84 98h1v1h-1zM85 99h1v1h-1zM89 103h1v1h-1zM90 103h1v1h-1zM91 104h1v1h-1zM96 109h1v1h-1zM97 110h1v1h-1zM98 111h1v1h-1zM102 114h1v1h-1zM103 115h1v1h-1zM104 116h1v1h-1zM109 121h1v1h-1zM110 122h1v1h-1zM111 122h1v1h-1zM115 126h1v1h-1zM116 127h1v1h-1zM117 128h1v1h-1zM118 129h1v1h-1zM122 132h1v1h-1zM123 133h1v1h-1zM124 134h1v1h-1zM129 139h1v1h-1zM130 140h1v1h-1zM131 141h1v1h-1zM135 144h1v1h-1zM136 145h1v1h-1zM137 146h1v1h-1zM138 147h1v1h-1zM142 151h1v1h-1zM143 151h1v1h-1zM144 152h1v1h-1zM149 157h1v1h-1zM150 158h1v1h-1zM151 159h1v1h-1zM155 162h1v1h-1zM156 163h1v1h-1zM157 164h1v1h-1zM158 165h1v1h-1zM162 169h1v1h-1zM163 170h1v1h-1zM164 171h1v1h-1zM168 174h1v1h-1zM169 175h1v1h-1zM170 176h1v1h-1zM171 177h1v1h-1zM175 181h1v1h-1zM176 181h1v1h-1zM177 182h1v1h-1zM182 187h1v1h-1zM183 188h1v1h-1zM184 189h1v1h-1zM188 192h1v1h-1zM189 193h1v1h-1zM190 194h1v1h-1zM191 195h1v1h-1zM195 199h1v1h-1zM196 200h1v1h-1zM197 200h1v1h-1zM202 205h1v1h-1zM203 206h1v1h-1zM204 207h1v1h-1zM208 210h1v1h-1zM209 211h1v1h-1zM210 212h1v1h-1zM211 213h1v1h-1zM215 217h1v1h-1zM216 218h1v1h-1zM217 219h1v1h-1zM221 222h1v1h-1zM222 223h1v1h-1zM223 224h1v1h-1zM224 225h1v1h-1zM228 229h1v1h-1zM229 230h1v1h-1zM230 230h1v1h-1zM235 235h1v1h-1zM236 236h1v1h-1zM237 237h1v1h-1zM241 240h1v1h-1zM242 241h1v1h-1zM243 242h1v1h-1zM244 243h1v1h-1zM248 247h1v1h-1zM249 248h1v1h-1zM250 249h1v1h-1zM255 253h1v1h-1zM256 254h1v1h-1zM257 255h1v1h-1zM261 259h1v1h-1zM262 259h1v1h-1zM263 260h1v1h-1zM264 261h1v1h-1zM268 265h1v1h-1zM269 266h1v1h-1zM270 267h1v1h-1zM274 270h1v1h-1zM275 271h1v1h-1zM276 272h1v1h-1zM277 273h1v1h-1zM281 277h1v1h-1zM282 278h1v1h-1zM283 279h1v1h-1zM288 283h1v1h-1zM289 284h1v1h-1zM290 285h1v1h-1zM294 288h1v1h-1zM295 289h1v1h-1zM296 290h1v1h-1zM297 291h1v1h-1zM301 295h1v1h-1zM302 296h1v1h-1zM303 297h1v1h-1zM308 301h1v1h-1zM309 302h1v1h-1zM310 303h1v1h-1zM314 307h1v1h-1zM315 308h1v1h-1zM316 308h1v1h-1zM317 309h1v1h-1zM321 313h1v1h-1zM322 314h1v1h-1zM323 315h1v1h-1zM328 319h1v1h-1zM329 320h1v1h-1zM330 321h1v1h-1zM334 325h1v1h-1zM335 326h1v1h-1zM336 327h1v1h-1zM341 331h1v1h-1zM342 332h1v1h-1zM343 333h1v1h-1zM347 337h1v1h-1zM348 337h1v1h-1zM349 338h1v1h-1zM350 339h1v1h-1zM354 343h1v1h-1zM355 344h1v1h-1zM356 345h1v1h-1zM361 349h1v1h-1zM362 350h1v1h-1zM363 351h1v1h-1zM367 355h1v1h-1zM368 356h1v1h-1zM369 357h1v1h-1zM370 357h1v1h-1zM374 361h1v1h-1zM375 362h1v1h-1zM376 363h1v1h-1zM381 367h1v1h-1zM382 368h1v1h-1zM383 369h1v1h-1zM387 373h1v1h-1zM388 374h1v1h-1zM389 375h1v1h-1zM390 376h1v1h-1zM394 379h1v1h-1zM395 380h1v1h-1zM396 381h1v1h-1zM400 385h1v1h-1zM401 386h1v1h-1zM402 386h1v1h-1zM403 387h1v1h-1zM407 391h1v1h-1zM408 392h1v1h-1zM409 393h1v1h-1zM414 397h1v1h-1zM415 398h1v1h-1zM416 399h1v1h-1zM420 403h1v1h-1zM421 404h1v1h-1zM422 405h1v1h-1zM423 406h1v1h-1zM427 409h1v1h-1zM428 410h1v1h-1zM429 411h1v1h-1zM434 415h1v1h-1zM435 416h1v1h-1zM436 417h1v1h-1zM440 421h1v1h-1zM441 422h1v1h-1zM442 423h1v1h-1zM443 424h1v1h-1zM447 427h1v1h-1zM448 428h1v1h-1zM449 429h1v1h-1zM453 433h1v1h-1zM454 434h1v1h-1zM455 435h1v1h-1zM456 435h1v1h-1zM460 439h1v1h-1zM461 440h1v1h-1zM462 441h1v1h-1zM467 445h1v1h-1zM468 446h1v1h-1zM469 447h1v1h-1zM473 451h1v1h-1zM474 452h1v1h-1zM475 453h1v1h-1zM476 454h1v1h-1zM480 457h1v1h-1zM481 458h1v1h-1zM482 459h1v1h-1zM487 464h1v1h-1zM488 464h1v1h-1zM489 465h1v1h-1zM493 469h1v1h-1zM494 470h1v1h-1zM495 471h1v1h-1zM496 472h1v1h-1zM500 475h1v1h-1zM501 476h1v1h-1zM502 477h1v1h-1zM506 481h1v1h-1zM507 482h1v1h-1zM508 483h1v1h-1zM509 484h1v1h-1zM513 487h1v1h-1zM514 488h1v1h-1zM515 489h1v1h-1zM520 494h1v1h-1zM521 494h1v1h-1zM522 495h1v1h-1zM526 499h1v1h-1zM527 500h1v1h-1zM528 501h1v1h-1zM529 502h1v1h-1zM533 505h1v1h-1zM534 506h1v1h-1zM535 507h1v1h-1zM540 512h1v1h-1zM541 513h1v1h-1zM542 513h1v1h-1zM546 517h1v1h-1zM547 518h1v1h-1zM548 519h1v1h-1zM549 520h1v1h-1zM553 523h1v1h-1zM554 524h1v1h-1zM555 525h1v1h-1zM560 530h1v1h-1zM561 531h1v1h-1zM562 532h1v1h-1zM566 535h1v1h-1zM567 536h1v1h-1zM568 537h1v1h-1zM573 542h1v1h-1zM574 543h1v1h-1zM575 543h1v1h-1zM579 547h1v1h-1zM580 548h1v1h-1z"/>
<text class="lt" font-weight="bold" x="600.5" y="299">y</text>
<rect x="600.5" y="304.5" width="23" height="23" fill="#f2f2f2" stroke="#fff" stroke-width="1"/><rect x="600.5" y="327.5" width="23" height="23" fill="#f2f2f2" stroke="#fff" stroke-width="1"/>
<path fill="#f8766d" shape-rendering="crispEdges" d="M611 312h2v1h1v1h1v2h-1v1h-1v1h-2v-1h-1v-1h-1v-2h1v-1h1z"/><path fill="#00bfc4" shape-rendering="crispEdges" d="M611 335h2v1h1v1h1v2h-1v1h-1v1h-2v-1h-1v-1h-1v-2h1v-1h1z"/>
<text class="lt" x="626.7" y="321.5">0</text><text class="lt" x="626.7" y="344.5">1</text>
</svg></body></html>
